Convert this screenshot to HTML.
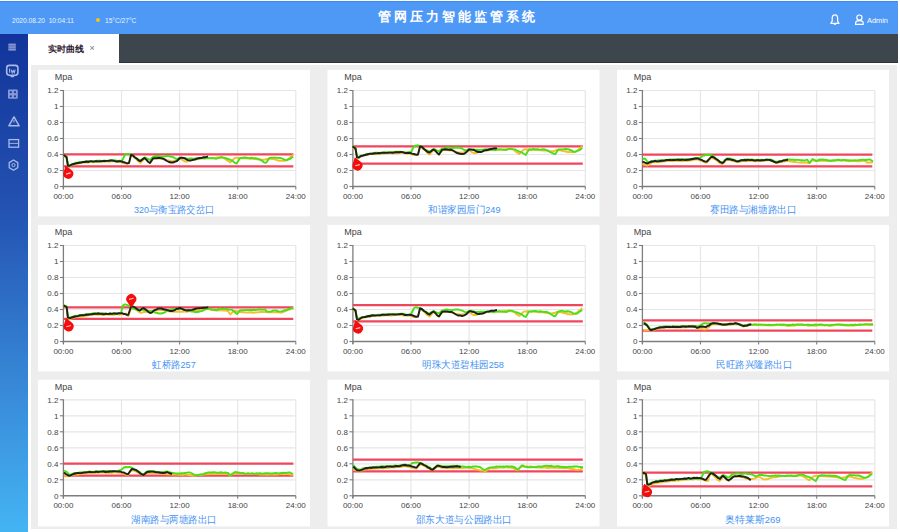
<!DOCTYPE html>
<html><head><meta charset="utf-8">
<style>
html,body{margin:0;padding:0;width:900px;height:532px;overflow:hidden;background:#fff;font-family:"Liberation Sans", sans-serif;}
.hdr{position:absolute;left:0;top:1.3px;width:898px;height:32.6px;background:#4f99f6;border-top:1px solid #3f8af0;box-sizing:border-box;}
.side{position:absolute;left:0;top:33.8px;width:27.5px;height:498.2px;background:linear-gradient(#12349a,#2352b2 35%,#3a8fdc 75%,#44b4f3);}
.tabbar{position:absolute;left:118.5px;top:33.8px;width:779.7px;height:28.8px;background:#3d454d;border-bottom:0.8px solid #2c3238;box-sizing:border-box;}
.tab{position:absolute;left:27.5px;top:33.8px;width:91px;height:29px;background:#fff;}
.content{position:absolute;left:31px;top:64.5px;width:865.5px;height:464.5px;background:#ededed;}
svg{position:absolute;left:0;top:0;}
.dt{position:absolute;left:12px;top:15.5px;font-size:6.6px;line-height:9px;color:#eaf2ff;white-space:nowrap;}
.sun{position:absolute;left:95.6px;top:18.2px;width:4px;height:4px;border-radius:50%;background:#f4c21a;}
.temp{position:absolute;left:105px;top:15.5px;font-size:6.6px;line-height:9px;color:#eaf2ff;white-space:nowrap;}
.title{position:absolute;left:378px;top:9px;font-size:13.4px;line-height:16px;font-weight:bold;color:#fff;letter-spacing:3.05px;white-space:nowrap;}
.admin{position:absolute;left:867px;top:15.5px;font-size:7.4px;line-height:9px;color:#fff;white-space:nowrap;}
.tabtxt{position:absolute;left:48px;top:43.5px;font-size:8.9px;line-height:10px;font-weight:bold;color:#2a2230;white-space:nowrap;}
.tabx{position:absolute;left:89.5px;top:43px;font-size:9px;line-height:10px;color:#777;}
#wrap{position:absolute;left:0;top:0;width:900px;height:532px;}
</style></head><body><div id="wrap">
<div class="hdr"></div>
<div class="side"></div>
<div class="tab"></div>
<div class="tabbar"></div>
<div class="content"></div>
<div class="dt">2020.08.20&nbsp; 10:04:11</div>
<div class="sun"></div>
<div class="temp">15°C/27°C</div>
<div class="title">管网压力智能监管系统</div>
<div class="admin">Admin</div>
<div class="tabtxt">实时曲线</div>
<div class="tabx">×</div>
<svg width="900" height="532" viewBox="0 0 900 532" font-family='"Liberation Sans", sans-serif'>
<rect x="38.0" y="69.8" width="272.0" height="146.6" fill="#fff"/>
<line x1="63.4" y1="170.50" x2="295.8" y2="170.50" stroke="#e6e6e6" stroke-width="1.2"/>
<line x1="63.4" y1="154.50" x2="295.8" y2="154.50" stroke="#e6e6e6" stroke-width="1.2"/>
<line x1="63.4" y1="138.50" x2="295.8" y2="138.50" stroke="#e6e6e6" stroke-width="1.2"/>
<line x1="63.4" y1="122.50" x2="295.8" y2="122.50" stroke="#e6e6e6" stroke-width="1.2"/>
<line x1="63.4" y1="106.50" x2="295.8" y2="106.50" stroke="#e6e6e6" stroke-width="1.2"/>
<line x1="63.4" y1="90.50" x2="295.8" y2="90.50" stroke="#e6e6e6" stroke-width="1.2"/>
<line x1="121.50" y1="90.5" x2="121.50" y2="186.5" stroke="#e6e6e6" stroke-width="1.2"/>
<line x1="179.60" y1="90.5" x2="179.60" y2="186.5" stroke="#e6e6e6" stroke-width="1.2"/>
<line x1="237.70" y1="90.5" x2="237.70" y2="186.5" stroke="#e6e6e6" stroke-width="1.2"/>
<line x1="295.80" y1="90.5" x2="295.80" y2="186.5" stroke="#e6e6e6" stroke-width="1.2"/>
<line x1="63.4" y1="90.0" x2="63.4" y2="189.0" stroke="#7d7d7d" stroke-width="1.3"/>
<line x1="62.8" y1="186.5" x2="295.8" y2="186.5" stroke="#7d7d7d" stroke-width="1.5"/>
<line x1="59.9" y1="186.50" x2="63.4" y2="186.50" stroke="#7d7d7d" stroke-width="1.1"/>
<text x="58.4" y="189.40" text-anchor="end" font-size="8" fill="#444">0</text>
<line x1="59.9" y1="170.50" x2="63.4" y2="170.50" stroke="#7d7d7d" stroke-width="1.1"/>
<text x="58.4" y="173.40" text-anchor="end" font-size="8" fill="#444">0.2</text>
<line x1="59.9" y1="154.50" x2="63.4" y2="154.50" stroke="#7d7d7d" stroke-width="1.1"/>
<text x="58.4" y="157.40" text-anchor="end" font-size="8" fill="#444">0.4</text>
<line x1="59.9" y1="138.50" x2="63.4" y2="138.50" stroke="#7d7d7d" stroke-width="1.1"/>
<text x="58.4" y="141.40" text-anchor="end" font-size="8" fill="#444">0.6</text>
<line x1="59.9" y1="122.50" x2="63.4" y2="122.50" stroke="#7d7d7d" stroke-width="1.1"/>
<text x="58.4" y="125.40" text-anchor="end" font-size="8" fill="#444">0.8</text>
<line x1="59.9" y1="106.50" x2="63.4" y2="106.50" stroke="#7d7d7d" stroke-width="1.1"/>
<text x="58.4" y="109.40" text-anchor="end" font-size="8" fill="#444">1</text>
<line x1="59.9" y1="90.50" x2="63.4" y2="90.50" stroke="#7d7d7d" stroke-width="1.1"/>
<text x="58.4" y="93.40" text-anchor="end" font-size="8" fill="#444">1.2</text>
<line x1="63.40" y1="186.5" x2="63.40" y2="189.5" stroke="#7d7d7d" stroke-width="1.1"/>
<text x="63.40" y="198.50" text-anchor="middle" font-size="8" fill="#444">00:00</text>
<line x1="121.50" y1="186.5" x2="121.50" y2="189.5" stroke="#7d7d7d" stroke-width="1.1"/>
<text x="121.50" y="198.50" text-anchor="middle" font-size="8" fill="#444">06:00</text>
<line x1="179.60" y1="186.5" x2="179.60" y2="189.5" stroke="#7d7d7d" stroke-width="1.1"/>
<text x="179.60" y="198.50" text-anchor="middle" font-size="8" fill="#444">12:00</text>
<line x1="237.70" y1="186.5" x2="237.70" y2="189.5" stroke="#7d7d7d" stroke-width="1.1"/>
<text x="237.70" y="198.50" text-anchor="middle" font-size="8" fill="#444">18:00</text>
<line x1="295.80" y1="186.5" x2="295.80" y2="189.5" stroke="#7d7d7d" stroke-width="1.1"/>
<text x="295.80" y="198.50" text-anchor="middle" font-size="8" fill="#444">24:00</text>
<text x="63.4" y="80.30" text-anchor="middle" font-size="9" fill="#444">Mpa</text>
<text x="134.10" y="212.60" font-size="9.6" fill="#4592f2" textLength="80.3" lengthAdjust="spacingAndGlyphs">320与衡宝路交岔口</text>
<line x1="63.4" y1="154.4" x2="293.30" y2="154.4" stroke="#f0465c" stroke-width="2.2"/>
<line x1="63.4" y1="166.3" x2="293.30" y2="166.3" stroke="#f0465c" stroke-width="2.2"/>
<polyline points="63.6,156.0 66.5,158.0 68.0,166.5 69.7,166.1 72.0,165.0 73.8,164.7 75.9,164.1 78.0,163.5 79.6,163.0 81.2,162.9 83.0,162.7 85.0,162.5 86.5,162.5 88.1,162.5 89.8,161.9 91.6,161.8 93.3,162.3 95.0,162.0 96.7,161.9 98.4,162.1 100.2,161.5 101.9,161.8 103.5,161.9 105.0,161.7 107.0,161.4 108.8,161.7 110.5,161.6 112.0,161.3 113.9,161.1 115.5,161.4 117.0,162.0 119.0,162.0 121.0,162.0 123.4,163.1 125.8,163.5 127.6,163.7 129.0,163.0 131.0,155.5 132.8,155.8 135.0,158.0 136.8,159.8 138.7,161.6 140.5,163.0 142.5,160.6 144.5,158.5 146.3,159.6 148.3,161.8 150.0,163.0 153.0,159.0 154.5,158.4 156.3,158.3 158.0,158.5 159.7,158.4 161.4,158.7 163.0,159.0 164.9,159.6 167.0,160.5 168.9,160.5 171.1,161.2 173.0,161.0 175.2,160.7 177.0,160.0 180.0,158.5 181.5,159.4 183.3,160.4 185.0,161.5 186.5,161.8 188.0,161.3 190.0,160.5 191.4,159.9 193.1,159.7 195.0,159.6 196.9,159.2 198.6,159.1 200.0,158.5 202.0,158.1 203.4,158.3 205.0,158.0 206.5,158.1 208.2,157.9 210.0,158.1 212.0,158.0 213.5,158.2 215.3,158.0 217.1,157.5 218.9,157.5 220.5,157.0 222.0,157.5 224.4,158.3 226.4,160.0 228.0,161.0 230.3,162.4 232.3,160.3 234.6,158.2 236.0,157.6 237.4,157.9 240.0,158.0 241.3,158.2 242.8,158.3 244.6,158.2 246.4,158.3 248.4,158.5 250.2,158.8 252.0,158.8 253.6,158.8 255.0,159.0 257.4,159.3 259.2,159.3 260.7,159.5 262.0,160.0 265.0,159.5 266.2,159.2 267.6,158.9 270.0,158.5 271.4,158.8 273.0,159.0 274.9,159.3 276.9,160.0 278.9,160.8 280.8,160.9 282.6,160.9 284.2,160.8 286.5,160.2 288.6,158.4 290.5,157.0 292.1,155.8 293.2,154.5" fill="none" stroke="#f7bd2f" stroke-width="1.9" stroke-linejoin="round"/>
<polyline points="63.6,154.5 66.5,156.5 68.0,165.3 69.7,165.6 72.0,164.0 73.8,163.8 75.9,162.7 78.0,162.5 79.6,161.9 81.2,162.2 83.0,161.9 85.0,161.5 86.5,161.5 88.1,161.2 89.8,161.3 91.6,161.2 93.3,161.1 95.0,161.0 96.7,160.7 98.4,160.8 100.2,160.8 101.9,161.0 103.5,161.1 105.0,160.7 107.0,160.9 108.8,160.5 110.5,160.3 112.0,160.3 113.9,160.3 115.5,160.5 117.0,161.0 119.2,160.7 121.0,161.0 122.2,160.5 125.0,154.5 126.8,153.9 129.0,153.9 131.0,154.5 133.0,155.8 135.0,157.5 136.8,158.8 138.7,159.6 140.5,160.0 142.5,158.8 144.5,157.5 146.3,158.0 148.3,159.1 150.0,160.0 153.0,157.0 154.5,156.3 156.3,155.9 158.0,156.0 159.7,156.1 161.4,156.7 163.0,156.5 164.9,156.3 167.0,156.0 168.9,156.0 171.1,156.8 173.0,157.0 175.2,158.4 177.0,159.0 180.0,157.5 181.5,157.7 183.3,158.0 185.0,158.0 186.5,158.4 188.0,158.6 190.0,158.5 191.4,158.4 193.1,158.7 195.0,158.6 196.9,157.9 198.6,158.2 200.0,158.0 202.0,158.3 203.4,158.3 205.0,158.5 206.7,158.4 208.5,158.2 210.3,158.4 212.0,158.0 213.8,158.2 215.4,158.7 217.0,158.5 218.6,157.9 220.2,157.7 221.9,157.1 223.9,157.8 226.0,158.2 228.0,159.0 230.4,159.9 232.5,160.8 234.7,162.9 236.7,163.5 239.8,158.2 241.1,158.0 242.8,157.7 244.7,157.5 246.6,157.7 248.4,158.1 250.0,158.0 252.0,157.8 253.8,158.4 255.5,158.1 257.0,158.5 258.8,159.4 260.5,159.9 262.0,160.8 264.2,162.5 266.2,162.7 269.4,158.0 270.8,157.8 272.5,157.6 274.5,157.6 276.5,157.8 278.4,157.9 280.0,158.0 282.4,158.7 284.3,159.7 286.3,160.3 288.1,159.7 290.1,158.9 291.9,157.5 293.2,156.6" fill="none" stroke="#4ade18" stroke-width="1.9" stroke-linejoin="round"/>
<polyline points="63.6,155.0 66.5,157.0 68.0,165.9 69.7,165.7 72.0,164.5 73.8,164.0 75.9,163.4 78.0,163.0 79.6,162.8 81.2,162.5 83.0,161.9 85.0,162.0 86.5,161.5 88.1,162.0 89.8,161.4 91.6,161.3 93.3,161.7 95.0,161.3 96.7,161.2 98.4,161.4 100.2,161.1 101.9,161.2 103.5,160.8 105.0,161.0 107.0,160.9 108.8,160.9 110.5,160.5 112.0,160.5 113.9,160.9 115.5,161.3 117.0,161.5 119.1,161.1 121.0,161.3 123.0,162.0 125.0,162.5 127.1,163.4 129.0,163.0 131.0,155.0 132.8,155.4 135.0,157.5 136.8,158.5 138.7,160.5 140.5,161.0 142.5,159.4 144.5,158.0 146.3,159.6 148.3,162.0 150.0,163.0 153.0,158.5 154.5,158.1 156.3,158.2 158.0,158.0 159.7,157.9 161.4,158.4 163.0,158.5 164.9,159.6 167.0,161.0 168.9,162.0 171.1,162.5 173.0,162.5 175.2,161.7 177.0,161.0 180.0,158.0 181.5,157.6 183.3,157.9 185.0,158.5 186.5,159.5 188.0,160.1 190.0,160.5 191.4,160.4 193.0,159.8 194.8,159.5 196.6,158.8 198.4,158.3 200.0,158.0 201.9,157.7 203.7,157.3 205.5,157.2 206.9,156.8 208.0,156.5" fill="none" stroke="#1c1f1c" stroke-width="1.9" stroke-linejoin="round"/>
<g transform="translate(68.3,173.8) rotate(162)"><path d="M0,8.75 L-4.00,3.00 A5.0,5.0 0 1 1 4.00,3.00 Z" fill="#f50d0d"/></g><path d="M66.0,174.1 L70.6,172.9" stroke="#fff" stroke-width="1.1" opacity="0.75"/>
<rect x="327.5" y="69.8" width="272.0" height="146.6" fill="#fff"/>
<line x1="352.9" y1="170.50" x2="585.3" y2="170.50" stroke="#e6e6e6" stroke-width="1.2"/>
<line x1="352.9" y1="154.50" x2="585.3" y2="154.50" stroke="#e6e6e6" stroke-width="1.2"/>
<line x1="352.9" y1="138.50" x2="585.3" y2="138.50" stroke="#e6e6e6" stroke-width="1.2"/>
<line x1="352.9" y1="122.50" x2="585.3" y2="122.50" stroke="#e6e6e6" stroke-width="1.2"/>
<line x1="352.9" y1="106.50" x2="585.3" y2="106.50" stroke="#e6e6e6" stroke-width="1.2"/>
<line x1="352.9" y1="90.50" x2="585.3" y2="90.50" stroke="#e6e6e6" stroke-width="1.2"/>
<line x1="411.00" y1="90.5" x2="411.00" y2="186.5" stroke="#e6e6e6" stroke-width="1.2"/>
<line x1="469.10" y1="90.5" x2="469.10" y2="186.5" stroke="#e6e6e6" stroke-width="1.2"/>
<line x1="527.20" y1="90.5" x2="527.20" y2="186.5" stroke="#e6e6e6" stroke-width="1.2"/>
<line x1="585.30" y1="90.5" x2="585.30" y2="186.5" stroke="#e6e6e6" stroke-width="1.2"/>
<line x1="352.9" y1="90.0" x2="352.9" y2="189.0" stroke="#7d7d7d" stroke-width="1.3"/>
<line x1="352.29999999999995" y1="186.5" x2="585.3" y2="186.5" stroke="#7d7d7d" stroke-width="1.5"/>
<line x1="349.4" y1="186.50" x2="352.9" y2="186.50" stroke="#7d7d7d" stroke-width="1.1"/>
<text x="347.9" y="189.40" text-anchor="end" font-size="8" fill="#444">0</text>
<line x1="349.4" y1="170.50" x2="352.9" y2="170.50" stroke="#7d7d7d" stroke-width="1.1"/>
<text x="347.9" y="173.40" text-anchor="end" font-size="8" fill="#444">0.2</text>
<line x1="349.4" y1="154.50" x2="352.9" y2="154.50" stroke="#7d7d7d" stroke-width="1.1"/>
<text x="347.9" y="157.40" text-anchor="end" font-size="8" fill="#444">0.4</text>
<line x1="349.4" y1="138.50" x2="352.9" y2="138.50" stroke="#7d7d7d" stroke-width="1.1"/>
<text x="347.9" y="141.40" text-anchor="end" font-size="8" fill="#444">0.6</text>
<line x1="349.4" y1="122.50" x2="352.9" y2="122.50" stroke="#7d7d7d" stroke-width="1.1"/>
<text x="347.9" y="125.40" text-anchor="end" font-size="8" fill="#444">0.8</text>
<line x1="349.4" y1="106.50" x2="352.9" y2="106.50" stroke="#7d7d7d" stroke-width="1.1"/>
<text x="347.9" y="109.40" text-anchor="end" font-size="8" fill="#444">1</text>
<line x1="349.4" y1="90.50" x2="352.9" y2="90.50" stroke="#7d7d7d" stroke-width="1.1"/>
<text x="347.9" y="93.40" text-anchor="end" font-size="8" fill="#444">1.2</text>
<line x1="352.90" y1="186.5" x2="352.90" y2="189.5" stroke="#7d7d7d" stroke-width="1.1"/>
<text x="352.90" y="198.50" text-anchor="middle" font-size="8" fill="#444">00:00</text>
<line x1="411.00" y1="186.5" x2="411.00" y2="189.5" stroke="#7d7d7d" stroke-width="1.1"/>
<text x="411.00" y="198.50" text-anchor="middle" font-size="8" fill="#444">06:00</text>
<line x1="469.10" y1="186.5" x2="469.10" y2="189.5" stroke="#7d7d7d" stroke-width="1.1"/>
<text x="469.10" y="198.50" text-anchor="middle" font-size="8" fill="#444">12:00</text>
<line x1="527.20" y1="186.5" x2="527.20" y2="189.5" stroke="#7d7d7d" stroke-width="1.1"/>
<text x="527.20" y="198.50" text-anchor="middle" font-size="8" fill="#444">18:00</text>
<line x1="585.30" y1="186.5" x2="585.30" y2="189.5" stroke="#7d7d7d" stroke-width="1.1"/>
<text x="585.30" y="198.50" text-anchor="middle" font-size="8" fill="#444">24:00</text>
<text x="352.9" y="80.30" text-anchor="middle" font-size="9" fill="#444">Mpa</text>
<text x="428.00" y="212.60" font-size="9.6" fill="#4592f2" textLength="72.5" lengthAdjust="spacingAndGlyphs">和谐家园后门249</text>
<line x1="352.9" y1="146.4" x2="582.80" y2="146.4" stroke="#f0465c" stroke-width="2.2"/>
<line x1="352.9" y1="163.7" x2="582.80" y2="163.7" stroke="#f0465c" stroke-width="2.2"/>
<polyline points="352.6,147.5 355.5,149.5 357.0,158.0 358.7,157.7 361.0,156.5 362.8,155.7 364.9,155.4 367.0,155.0 368.6,154.5 370.2,154.1 372.0,154.1 374.0,154.0 375.5,154.2 377.1,154.0 378.8,153.9 380.6,153.4 382.3,153.6 384.0,153.5 385.7,153.3 387.4,153.2 389.2,153.1 390.9,153.1 392.5,153.6 394.0,153.2 396.0,153.3 397.8,153.2 399.5,153.0 401.0,152.8 402.9,152.8 404.5,153.1 406.0,153.5 408.0,153.5 410.0,153.5 411.6,154.1 413.3,154.8 414.8,155.0 418.0,154.5 420.0,147.0 421.8,147.7 424.0,149.5 425.8,151.0 427.7,153.5 429.5,154.5 431.5,152.4 433.5,150.0 435.3,151.2 437.3,153.1 439.0,154.5 442.0,150.5 443.5,150.0 445.3,149.7 447.0,150.0 448.7,150.4 450.4,150.5 452.0,150.5 453.9,151.3 456.0,152.0 457.9,152.2 460.1,152.8 462.0,152.5 464.2,152.2 466.0,151.5 469.0,150.0 470.5,151.1 472.3,152.4 474.0,153.0 475.5,153.0 477.0,152.5 479.0,152.0 480.4,151.8 482.1,151.3 484.0,150.7 485.9,150.5 487.6,150.5 489.0,150.0 491.0,149.4 492.4,149.3 494.0,149.5 495.5,149.6 497.2,149.3 499.0,149.5 501.0,149.5 502.5,149.4 504.3,149.1 506.1,149.4 507.9,148.7 509.5,148.8 511.0,149.0 513.4,149.7 515.4,151.4 517.0,152.5 519.3,153.9 521.3,151.7 523.6,149.7 525.0,149.2 526.4,149.5 529.0,149.5 530.3,149.4 531.8,149.7 533.6,150.0 535.4,149.6 537.4,149.7 539.2,149.9 541.0,150.4 542.6,150.5 544.0,150.5 546.4,150.6 548.2,151.0 549.7,151.1 551.0,151.5 554.0,151.0 555.2,150.6 556.6,149.8 559.0,150.0 560.4,150.3 562.0,150.8 563.9,151.3 565.9,151.6 567.9,152.2 569.8,151.9 571.6,152.3 573.2,152.3 575.5,151.8 577.6,150.3 579.5,148.4 581.1,147.3 582.2,146.0" fill="none" stroke="#f7bd2f" stroke-width="1.9" stroke-linejoin="round"/>
<polyline points="352.6,146.0 355.5,148.0 357.0,156.8 358.7,156.9 361.0,155.5 362.8,155.2 364.9,154.7 367.0,154.0 368.6,154.0 370.2,153.6 372.0,153.5 374.0,153.0 375.5,152.6 377.1,152.8 378.8,153.0 380.6,152.7 382.3,152.8 384.0,152.5 385.7,152.2 387.4,152.4 389.2,152.2 390.9,152.3 392.5,152.3 394.0,152.2 396.0,151.7 397.8,151.7 399.5,151.7 401.0,151.8 402.9,152.3 404.5,152.5 406.0,152.5 408.2,152.3 410.0,152.5 411.2,152.0 414.0,146.0 415.8,145.7 418.0,145.3 420.0,146.0 422.0,147.4 424.0,149.0 425.8,149.8 427.7,150.7 429.5,151.5 431.5,150.5 433.5,149.0 435.3,149.5 437.3,150.7 439.0,151.5 442.0,148.5 443.5,148.3 445.3,147.9 447.0,147.5 448.7,147.4 450.4,148.2 452.0,148.0 453.9,147.7 456.0,147.5 457.9,147.8 460.1,147.8 462.0,148.5 464.2,150.0 466.0,150.5 469.0,149.0 470.5,149.2 472.3,149.6 474.0,149.5 475.5,150.0 477.0,149.8 479.0,150.0 480.4,149.9 482.1,149.6 484.0,149.5 485.9,149.3 487.6,149.4 489.0,149.5 491.0,149.7 492.4,149.5 494.0,150.0 495.7,150.0 497.5,149.6 499.3,149.4 501.0,149.5 502.8,149.9 504.4,149.9 506.0,150.0 507.6,149.4 509.2,148.9 510.9,148.6 512.9,149.1 515.0,149.4 517.0,150.5 519.4,151.7 521.5,152.3 523.7,153.8 525.7,155.0 528.8,149.7 530.1,149.5 531.8,149.5 533.7,148.9 535.6,149.5 537.4,149.3 539.0,149.5 541.0,149.6 542.8,149.3 544.5,149.4 546.0,150.0 547.8,150.4 549.5,151.8 551.0,152.3 553.2,153.5 555.2,154.2 558.4,149.5 559.8,149.4 561.5,149.4 563.5,149.4 565.5,149.0 567.4,149.2 569.0,149.5 571.4,150.3 573.3,151.6 575.3,151.8 577.1,150.9 579.1,150.3 580.9,149.1 582.2,148.1" fill="none" stroke="#4ade18" stroke-width="1.9" stroke-linejoin="round"/>
<polyline points="352.6,146.5 355.5,148.5 357.0,157.4 358.7,157.6 361.0,156.0 362.8,155.7 364.9,155.0 367.0,154.5 368.6,154.0 370.2,153.6 372.0,153.8 374.0,153.5 375.5,153.3 377.1,153.4 378.8,153.0 380.6,153.2 382.3,152.7 384.0,152.8 385.7,152.9 387.4,152.8 389.2,152.6 390.9,152.6 392.5,152.7 394.0,152.5 396.0,152.1 397.8,152.2 399.5,152.2 401.0,152.0 402.9,152.1 404.5,152.9 406.0,153.0 408.1,153.0 410.0,152.8 412.0,153.6 414.0,154.0 416.1,154.7 418.0,154.5 420.0,146.5 421.8,146.7 424.0,149.0 425.8,150.5 427.7,152.0 429.5,152.5 431.5,150.9 433.5,149.5 435.3,150.6 437.3,153.0 439.0,154.5 442.0,150.0 443.5,149.6 445.3,149.3 447.0,149.5 448.7,149.8 450.4,149.7 452.0,150.0 453.9,151.0 456.0,152.5 457.9,153.3 460.1,153.7 462.0,154.0 464.2,153.8 466.0,152.5 469.0,149.5 470.5,149.6 472.3,149.6 474.0,150.0 475.5,150.8 477.0,151.7 479.0,152.0 480.4,152.0 482.0,151.8 483.8,150.6 485.6,150.3 487.4,150.0 489.0,149.5 490.9,149.0 492.7,148.8 494.5,148.2 495.9,148.5 497.0,148.0" fill="none" stroke="#1c1f1c" stroke-width="1.9" stroke-linejoin="round"/>
<g transform="translate(357.5,165.5) rotate(162)"><path d="M0,8.75 L-4.00,3.00 A5.0,5.0 0 1 1 4.00,3.00 Z" fill="#f50d0d"/></g><path d="M355.2,165.8 L359.8,164.6" stroke="#fff" stroke-width="1.1" opacity="0.75"/>
<rect x="617.0" y="69.8" width="272.0" height="146.6" fill="#fff"/>
<line x1="642.4" y1="170.50" x2="874.8" y2="170.50" stroke="#e6e6e6" stroke-width="1.2"/>
<line x1="642.4" y1="154.50" x2="874.8" y2="154.50" stroke="#e6e6e6" stroke-width="1.2"/>
<line x1="642.4" y1="138.50" x2="874.8" y2="138.50" stroke="#e6e6e6" stroke-width="1.2"/>
<line x1="642.4" y1="122.50" x2="874.8" y2="122.50" stroke="#e6e6e6" stroke-width="1.2"/>
<line x1="642.4" y1="106.50" x2="874.8" y2="106.50" stroke="#e6e6e6" stroke-width="1.2"/>
<line x1="642.4" y1="90.50" x2="874.8" y2="90.50" stroke="#e6e6e6" stroke-width="1.2"/>
<line x1="700.50" y1="90.5" x2="700.50" y2="186.5" stroke="#e6e6e6" stroke-width="1.2"/>
<line x1="758.60" y1="90.5" x2="758.60" y2="186.5" stroke="#e6e6e6" stroke-width="1.2"/>
<line x1="816.70" y1="90.5" x2="816.70" y2="186.5" stroke="#e6e6e6" stroke-width="1.2"/>
<line x1="874.80" y1="90.5" x2="874.80" y2="186.5" stroke="#e6e6e6" stroke-width="1.2"/>
<line x1="642.4" y1="90.0" x2="642.4" y2="189.0" stroke="#7d7d7d" stroke-width="1.3"/>
<line x1="641.8" y1="186.5" x2="874.8" y2="186.5" stroke="#7d7d7d" stroke-width="1.5"/>
<line x1="638.9" y1="186.50" x2="642.4" y2="186.50" stroke="#7d7d7d" stroke-width="1.1"/>
<text x="637.4" y="189.40" text-anchor="end" font-size="8" fill="#444">0</text>
<line x1="638.9" y1="170.50" x2="642.4" y2="170.50" stroke="#7d7d7d" stroke-width="1.1"/>
<text x="637.4" y="173.40" text-anchor="end" font-size="8" fill="#444">0.2</text>
<line x1="638.9" y1="154.50" x2="642.4" y2="154.50" stroke="#7d7d7d" stroke-width="1.1"/>
<text x="637.4" y="157.40" text-anchor="end" font-size="8" fill="#444">0.4</text>
<line x1="638.9" y1="138.50" x2="642.4" y2="138.50" stroke="#7d7d7d" stroke-width="1.1"/>
<text x="637.4" y="141.40" text-anchor="end" font-size="8" fill="#444">0.6</text>
<line x1="638.9" y1="122.50" x2="642.4" y2="122.50" stroke="#7d7d7d" stroke-width="1.1"/>
<text x="637.4" y="125.40" text-anchor="end" font-size="8" fill="#444">0.8</text>
<line x1="638.9" y1="106.50" x2="642.4" y2="106.50" stroke="#7d7d7d" stroke-width="1.1"/>
<text x="637.4" y="109.40" text-anchor="end" font-size="8" fill="#444">1</text>
<line x1="638.9" y1="90.50" x2="642.4" y2="90.50" stroke="#7d7d7d" stroke-width="1.1"/>
<text x="637.4" y="93.40" text-anchor="end" font-size="8" fill="#444">1.2</text>
<line x1="642.40" y1="186.5" x2="642.40" y2="189.5" stroke="#7d7d7d" stroke-width="1.1"/>
<text x="642.40" y="198.50" text-anchor="middle" font-size="8" fill="#444">00:00</text>
<line x1="700.50" y1="186.5" x2="700.50" y2="189.5" stroke="#7d7d7d" stroke-width="1.1"/>
<text x="700.50" y="198.50" text-anchor="middle" font-size="8" fill="#444">06:00</text>
<line x1="758.60" y1="186.5" x2="758.60" y2="189.5" stroke="#7d7d7d" stroke-width="1.1"/>
<text x="758.60" y="198.50" text-anchor="middle" font-size="8" fill="#444">12:00</text>
<line x1="816.70" y1="186.5" x2="816.70" y2="189.5" stroke="#7d7d7d" stroke-width="1.1"/>
<text x="816.70" y="198.50" text-anchor="middle" font-size="8" fill="#444">18:00</text>
<line x1="874.80" y1="186.5" x2="874.80" y2="189.5" stroke="#7d7d7d" stroke-width="1.1"/>
<text x="874.80" y="198.50" text-anchor="middle" font-size="8" fill="#444">24:00</text>
<text x="642.4" y="80.30" text-anchor="middle" font-size="9" fill="#444">Mpa</text>
<text x="709.90" y="212.60" font-size="9.6" fill="#4592f2" textLength="86.8" lengthAdjust="spacingAndGlyphs">赛田路与湘塘路出口</text>
<line x1="642.4" y1="154.6" x2="872.30" y2="154.6" stroke="#f0465c" stroke-width="2.2"/>
<line x1="642.4" y1="166.3" x2="872.30" y2="166.3" stroke="#f0465c" stroke-width="2.2"/>
<polyline points="642.5,164.0 643.8,164.4 645.7,165.0 647.5,165.5 649.6,164.2 652.0,162.5 653.3,161.9 654.9,162.2 656.5,162.0 658.2,161.8 660.0,162.0 661.6,161.9 663.2,161.3 664.9,161.4 666.6,161.0 668.3,160.8 670.0,161.0 671.7,160.9 673.3,161.2 675.0,160.7 676.7,160.8 678.3,161.1 680.0,161.0 681.7,161.3 683.5,160.9 685.2,160.7 687.0,161.1 688.6,160.3 690.0,160.5 692.4,160.4 694.3,159.6 696.0,159.5 697.9,159.6 700.0,160.5 701.6,160.8 703.5,161.7 705.4,162.7 707.0,162.5 709.1,160.0 711.0,158.0 712.6,158.2 714.2,159.0 716.0,160.0 718.0,161.4 720.0,163.2 722.0,164.0 723.7,162.8 725.3,161.0 727.0,160.0 729.0,159.8 731.1,160.6 733.0,161.0 734.9,161.6 737.0,162.0 738.2,161.8 739.6,161.8 741.1,161.4 742.9,161.0 745.0,161.0 746.4,161.2 748.0,161.1 749.7,160.8 751.5,161.0 753.3,161.0 755.1,161.3 756.9,161.2 758.5,160.9 760.0,161.0 762.0,161.2 763.9,160.5 765.6,160.5 767.1,160.6 768.6,160.2 770.0,160.5 772.4,161.2 774.3,162.0 776.0,163.0 777.9,162.8 780.0,162.0 781.4,162.0 783.0,161.6 784.7,161.5 786.4,160.9 788.0,161.0 789.8,161.3 791.4,161.5 793.1,161.8 795.0,162.0 796.6,162.1 798.3,162.4 800.2,162.6 802.0,162.3 803.6,162.5 805.0,162.5 807.7,162.7 809.5,163.0 812.5,160.0 814.2,160.5 816.0,161.0 817.6,160.9 820.0,160.5 821.3,160.9 822.9,160.9 824.6,160.6 826.4,160.8 828.3,161.1 830.0,161.0 831.7,160.6 833.3,160.8 835.0,160.5 836.7,160.4 838.3,160.2 840.0,160.5 841.6,160.7 843.1,160.4 844.7,160.5 846.3,160.8 848.0,161.2 850.0,161.0 851.5,160.7 853.2,161.0 855.1,161.0 857.0,161.2 859.0,161.1 860.8,161.2 862.4,160.8 863.9,160.9 865.0,161.0 867.0,162.5 868.9,162.4 871.3,162.5 873.0,162.0" fill="none" stroke="#f7bd2f" stroke-width="1.9" stroke-linejoin="round"/>
<polyline points="642.5,159.0 645.0,158.5 648.0,162.5 649.7,161.8 652.0,161.0 653.3,161.2 654.8,160.5 656.5,160.8 658.2,160.3 660.0,160.5 661.6,160.2 663.2,160.5 664.9,159.8 666.6,159.9 668.3,159.6 670.0,159.5 671.7,159.4 673.3,159.4 675.0,159.3 676.7,159.7 678.3,159.2 680.0,159.5 681.7,159.3 683.5,159.1 685.2,159.1 687.0,159.2 688.6,159.4 690.0,159.0 692.4,158.6 694.3,158.0 696.0,158.0 698.2,157.9 700.0,158.0 703.0,155.5 704.3,155.6 706.0,154.7 707.8,154.9 709.5,154.7 711.0,155.0 712.9,156.0 714.4,157.0 716.0,158.5 718.0,160.2 720.0,161.7 722.0,162.5 723.7,161.7 725.3,160.0 727.0,158.5 729.0,158.5 731.1,158.7 733.0,159.5 734.9,160.1 737.0,161.0 738.2,161.2 739.6,160.5 741.1,159.9 742.9,160.0 745.0,159.5 746.4,159.5 748.0,159.7 749.7,159.8 751.5,159.5 753.3,159.6 755.1,160.1 756.9,159.7 758.5,160.2 760.0,160.0 762.0,159.7 763.9,159.9 765.6,159.8 767.1,159.8 768.6,159.7 770.0,159.5 772.4,160.2 774.3,161.1 776.0,162.0 777.9,161.5 780.0,161.0 781.4,160.7 783.0,160.3 784.7,159.7 786.4,160.0 788.0,159.5 789.8,159.5 791.4,159.8 793.1,159.6 795.0,160.0 796.6,159.9 798.4,159.9 800.3,160.2 802.1,160.3 803.8,160.4 805.0,160.5 807.0,159.5 809.5,163.0 812.5,159.0 814.2,159.8 816.0,161.0 817.6,160.5 820.0,159.5 821.3,159.8 822.9,159.5 824.6,159.9 826.4,160.0 828.3,160.5 830.0,160.5 831.7,160.8 833.3,160.2 835.0,160.5 836.7,160.0 838.3,159.7 840.0,160.0 841.6,160.2 843.1,160.0 844.7,160.0 846.3,160.3 848.0,160.3 850.0,160.5 851.5,160.4 853.2,160.4 855.0,160.3 856.9,160.4 858.7,160.1 860.6,159.9 862.2,159.8 863.7,159.8 865.0,160.0 867.5,159.8 868.9,159.4 870.0,159.5 873.0,161.5" fill="none" stroke="#4ade18" stroke-width="1.9" stroke-linejoin="round"/>
<polyline points="642.5,161.5 643.8,162.1 645.7,163.0 647.5,163.5 649.6,162.4 652.0,161.5 653.3,161.6 654.9,160.9 656.5,161.2 658.2,161.4 660.0,161.0 661.6,160.6 663.2,160.7 664.9,160.6 666.6,160.0 668.3,160.0 670.0,160.0 671.7,160.1 673.3,159.9 675.0,160.1 676.7,159.8 678.3,159.8 680.0,160.0 681.7,159.7 683.5,159.9 685.2,160.1 687.0,159.8 688.6,159.8 690.0,159.5 692.4,159.0 694.3,158.9 696.0,158.5 697.9,158.5 700.0,159.5 701.6,159.9 703.5,161.0 705.4,161.6 707.0,161.5 709.1,159.2 711.0,157.0 712.6,156.8 714.2,157.8 716.0,159.0 718.0,160.3 720.0,162.0 722.0,163.0 723.7,162.3 725.3,160.0 727.0,159.0 729.0,159.2 731.1,159.7 733.0,160.0 734.9,160.6 737.0,161.5 738.2,161.3 739.6,161.0 741.1,160.3 742.9,160.2 745.0,160.0 746.4,160.3 748.0,159.7 749.7,160.1 751.5,159.9 753.3,160.3 755.1,160.6 756.9,160.2 758.5,160.1 760.0,160.5 762.0,160.1 763.9,160.3 765.6,159.8 767.1,159.7 768.6,159.9 770.0,160.0 772.4,161.0 774.3,161.8 776.0,162.5 777.9,162.2 780.0,161.5 781.5,161.3 783.3,160.5 785.2,160.4 786.8,159.8 788.0,159.8" fill="none" stroke="#1c1f1c" stroke-width="1.9" stroke-linejoin="round"/>
<rect x="38.0" y="224.8" width="272.0" height="146.6" fill="#fff"/>
<line x1="63.4" y1="325.50" x2="295.8" y2="325.50" stroke="#e6e6e6" stroke-width="1.2"/>
<line x1="63.4" y1="309.50" x2="295.8" y2="309.50" stroke="#e6e6e6" stroke-width="1.2"/>
<line x1="63.4" y1="293.50" x2="295.8" y2="293.50" stroke="#e6e6e6" stroke-width="1.2"/>
<line x1="63.4" y1="277.50" x2="295.8" y2="277.50" stroke="#e6e6e6" stroke-width="1.2"/>
<line x1="63.4" y1="261.50" x2="295.8" y2="261.50" stroke="#e6e6e6" stroke-width="1.2"/>
<line x1="63.4" y1="245.50" x2="295.8" y2="245.50" stroke="#e6e6e6" stroke-width="1.2"/>
<line x1="121.50" y1="245.5" x2="121.50" y2="341.5" stroke="#e6e6e6" stroke-width="1.2"/>
<line x1="179.60" y1="245.5" x2="179.60" y2="341.5" stroke="#e6e6e6" stroke-width="1.2"/>
<line x1="237.70" y1="245.5" x2="237.70" y2="341.5" stroke="#e6e6e6" stroke-width="1.2"/>
<line x1="295.80" y1="245.5" x2="295.80" y2="341.5" stroke="#e6e6e6" stroke-width="1.2"/>
<line x1="63.4" y1="245.0" x2="63.4" y2="344.0" stroke="#7d7d7d" stroke-width="1.3"/>
<line x1="62.8" y1="341.5" x2="295.8" y2="341.5" stroke="#7d7d7d" stroke-width="1.5"/>
<line x1="59.9" y1="341.50" x2="63.4" y2="341.50" stroke="#7d7d7d" stroke-width="1.1"/>
<text x="58.4" y="344.40" text-anchor="end" font-size="8" fill="#444">0</text>
<line x1="59.9" y1="325.50" x2="63.4" y2="325.50" stroke="#7d7d7d" stroke-width="1.1"/>
<text x="58.4" y="328.40" text-anchor="end" font-size="8" fill="#444">0.2</text>
<line x1="59.9" y1="309.50" x2="63.4" y2="309.50" stroke="#7d7d7d" stroke-width="1.1"/>
<text x="58.4" y="312.40" text-anchor="end" font-size="8" fill="#444">0.4</text>
<line x1="59.9" y1="293.50" x2="63.4" y2="293.50" stroke="#7d7d7d" stroke-width="1.1"/>
<text x="58.4" y="296.40" text-anchor="end" font-size="8" fill="#444">0.6</text>
<line x1="59.9" y1="277.50" x2="63.4" y2="277.50" stroke="#7d7d7d" stroke-width="1.1"/>
<text x="58.4" y="280.40" text-anchor="end" font-size="8" fill="#444">0.8</text>
<line x1="59.9" y1="261.50" x2="63.4" y2="261.50" stroke="#7d7d7d" stroke-width="1.1"/>
<text x="58.4" y="264.40" text-anchor="end" font-size="8" fill="#444">1</text>
<line x1="59.9" y1="245.50" x2="63.4" y2="245.50" stroke="#7d7d7d" stroke-width="1.1"/>
<text x="58.4" y="248.40" text-anchor="end" font-size="8" fill="#444">1.2</text>
<line x1="63.40" y1="341.5" x2="63.40" y2="344.5" stroke="#7d7d7d" stroke-width="1.1"/>
<text x="63.40" y="353.50" text-anchor="middle" font-size="8" fill="#444">00:00</text>
<line x1="121.50" y1="341.5" x2="121.50" y2="344.5" stroke="#7d7d7d" stroke-width="1.1"/>
<text x="121.50" y="353.50" text-anchor="middle" font-size="8" fill="#444">06:00</text>
<line x1="179.60" y1="341.5" x2="179.60" y2="344.5" stroke="#7d7d7d" stroke-width="1.1"/>
<text x="179.60" y="353.50" text-anchor="middle" font-size="8" fill="#444">12:00</text>
<line x1="237.70" y1="341.5" x2="237.70" y2="344.5" stroke="#7d7d7d" stroke-width="1.1"/>
<text x="237.70" y="353.50" text-anchor="middle" font-size="8" fill="#444">18:00</text>
<line x1="295.80" y1="341.5" x2="295.80" y2="344.5" stroke="#7d7d7d" stroke-width="1.1"/>
<text x="295.80" y="353.50" text-anchor="middle" font-size="8" fill="#444">24:00</text>
<text x="63.4" y="235.30" text-anchor="middle" font-size="9" fill="#444">Mpa</text>
<text x="152.10" y="367.60" font-size="9.6" fill="#4592f2" textLength="43.6" lengthAdjust="spacingAndGlyphs">虹桥路257</text>
<line x1="63.4" y1="307.4" x2="293.30" y2="307.4" stroke="#f0465c" stroke-width="2.2"/>
<line x1="63.4" y1="318.8" x2="293.30" y2="318.8" stroke="#f0465c" stroke-width="2.2"/>
<polyline points="63.6,306.0 66.7,308.0 67.9,318.5 69.8,319.2 72.0,318.3 75.0,317.3 76.3,317.0 77.8,316.9 79.6,316.4 81.4,316.5 83.3,316.3 85.0,315.8 86.7,315.7 88.3,315.1 90.0,315.1 91.7,314.8 93.3,314.5 95.0,314.6 96.6,314.9 98.1,314.9 99.6,314.3 101.2,314.9 103.0,314.8 105.0,314.7 106.4,314.6 108.0,314.5 109.7,314.8 111.5,314.6 113.3,314.7 115.1,314.6 116.8,314.2 118.4,314.6 119.8,314.7 121.0,314.3 123.6,314.3 124.9,313.6 126.0,313.5 128.3,316.0 131.0,309.0 132.9,307.7 135.0,308.5 136.4,309.4 137.9,311.2 140.0,312.5 141.4,312.9 143.0,312.3 144.7,312.0 146.5,311.9 148.3,311.2 150.0,311.0 151.6,310.8 153.3,310.5 154.9,310.0 156.5,310.2 158.2,310.3 160.0,310.0 161.6,309.9 163.2,310.1 164.8,310.5 166.5,310.5 168.2,311.1 170.1,311.6 172.0,311.5 173.4,311.7 174.9,311.7 176.5,311.9 178.1,311.5 179.7,311.8 181.3,311.7 183.0,311.8 184.7,311.4 186.3,311.8 188.0,311.5 189.7,311.1 191.5,310.9 193.3,311.0 195.2,310.8 197.1,310.1 198.9,309.8 200.6,309.4 202.2,309.2 203.7,309.2 205.0,309.0 207.2,308.8 208.6,309.0 209.9,309.6 212.0,310.0 213.3,309.9 214.8,310.3 216.6,310.4 218.4,310.5 220.3,310.3 222.2,310.3 223.9,310.5 225.5,310.3 226.9,310.9 228.0,311.0 230.3,314.5 231.9,312.8 234.0,311.0 235.5,310.9 237.2,311.2 240.0,312.0 241.3,312.0 242.9,312.2 244.6,312.2 246.5,312.6 248.4,312.5 250.3,312.2 252.0,312.5 253.6,312.8 255.0,312.5 257.2,312.4 258.7,312.3 260.1,311.8 262.0,312.0 263.4,312.0 265.0,312.0 266.8,312.1 268.5,312.2 270.3,312.4 272.0,312.4 273.6,312.4 275.6,312.4 277.5,312.2 279.3,312.4 281.1,312.7 283.0,312.0 284.8,311.4 286.7,310.5 288.7,309.6 290.5,309.2 292.1,308.2 293.2,308.0" fill="none" stroke="#f7bd2f" stroke-width="1.9" stroke-linejoin="round"/>
<polyline points="63.6,305.0 66.7,306.7 67.9,317.0 69.8,317.7 72.0,317.0 75.0,316.0 76.3,315.8 77.8,315.8 79.6,315.2 81.4,315.0 83.3,314.8 85.0,314.5 86.7,314.0 88.3,314.0 90.0,313.9 91.7,313.8 93.3,313.1 95.0,313.3 96.6,313.1 98.1,313.0 99.6,313.6 101.2,313.6 103.0,313.2 105.0,313.5 106.4,313.8 108.0,313.9 109.8,313.7 111.6,313.8 113.5,313.5 115.3,313.4 117.0,313.7 118.6,313.3 119.9,313.1 121.0,313.0 123.0,305.3 125.2,304.4 127.5,305.1 129.0,305.8 130.8,307.5 132.8,308.4 135.1,309.3 137.0,310.0 140.0,309.5 141.3,309.9 142.9,309.9 144.8,310.2 146.6,310.4 148.4,310.8 150.0,311.0 152.0,311.4 153.8,311.8 155.4,312.8 157.0,312.8 159.0,313.5 161.0,313.5 163.0,313.0 164.6,312.6 166.2,311.4 168.0,310.5 170.0,310.0 171.5,309.5 173.1,309.1 174.8,309.4 176.6,309.0 178.3,309.2 180.0,309.0 181.7,309.1 183.4,309.8 185.1,310.1 186.8,309.9 188.4,310.5 190.0,311.0 191.7,311.6 193.4,311.6 195.0,312.2 196.5,312.0 198.0,312.0 199.9,311.3 201.8,311.0 203.6,310.3 205.0,309.5 208.0,308.5 209.9,308.7 212.0,309.5 214.3,309.8 216.6,310.3 218.1,309.3 220.0,308.5 221.3,308.8 223.0,308.9 224.8,308.7 226.5,309.1 228.0,309.5 230.1,309.6 231.9,309.9 233.5,310.8 235.5,312.9 237.2,314.0 239.8,310.5 241.0,310.1 242.4,310.2 244.1,310.1 246.0,309.9 247.9,310.2 249.9,309.8 251.7,310.2 253.5,309.8 255.0,310.0 257.1,309.8 259.0,309.5 260.8,309.4 262.4,309.8 263.8,309.6 265.0,309.5 267.3,311.9 268.9,311.6 270.9,311.6 273.1,310.6 275.0,310.5 276.9,310.7 278.6,311.6 281.0,311.4 282.5,311.2 284.4,310.3 286.4,310.3 288.5,309.1 290.4,308.5 292.0,308.3 293.2,307.7" fill="none" stroke="#4ade18" stroke-width="1.9" stroke-linejoin="round"/>
<polyline points="63.6,305.5 66.7,307.2 67.9,317.6 69.8,318.2 72.0,317.5 75.0,316.5 76.3,316.4 77.8,316.1 79.6,315.5 81.4,315.2 83.3,315.2 85.0,315.0 86.7,314.6 88.3,314.7 90.0,314.4 91.7,314.2 93.3,314.0 95.0,313.8 96.6,313.9 98.1,313.5 99.7,313.8 101.3,313.7 103.0,314.3 105.0,314.0 106.5,313.7 108.2,314.1 110.0,313.5 111.9,313.9 113.7,313.5 115.6,313.5 117.2,313.7 118.7,313.1 120.0,313.4 122.5,313.2 123.8,314.0 125.0,314.0 126.8,314.9 128.3,314.7 130.8,307.2 132.7,306.4 135.0,307.5 136.7,308.8 138.4,310.1 140.0,310.5 141.7,308.9 143.5,308.0 144.9,308.9 146.7,310.3 148.4,312.0 150.0,313.0 151.8,312.6 153.4,310.9 155.0,310.0 156.7,309.4 158.3,308.4 160.0,308.5 161.6,308.4 163.2,309.3 165.0,309.5 166.6,309.9 168.3,310.4 170.1,311.0 172.0,311.0 173.6,310.6 175.2,309.8 176.8,308.7 178.4,308.5 180.0,308.0 181.8,308.7 183.5,309.5 185.2,310.1 187.0,310.5 188.6,310.3 190.2,310.1 191.8,309.9 193.4,309.5 195.0,309.0 196.8,308.4 198.6,308.3 200.3,308.1 202.0,308.0 204.4,307.7 206.7,307.6 208.3,307.2" fill="none" stroke="#1c1f1c" stroke-width="1.9" stroke-linejoin="round"/>
<g transform="translate(68.6,326.4) rotate(162)"><path d="M0,8.75 L-4.00,3.00 A5.0,5.0 0 1 1 4.00,3.00 Z" fill="#f50d0d"/></g><path d="M66.3,326.7 L70.9,325.5" stroke="#fff" stroke-width="1.1" opacity="0.75"/>
<g transform="translate(131.3,299.1) rotate(0)"><path d="M0,8.75 L-4.00,3.00 A5.0,5.0 0 1 1 4.00,3.00 Z" fill="#f50d0d"/></g><path d="M129.0,299.4 L133.6,298.2" stroke="#fff" stroke-width="1.1" opacity="0.75"/>
<rect x="327.5" y="224.8" width="272.0" height="146.6" fill="#fff"/>
<line x1="352.9" y1="325.50" x2="585.3" y2="325.50" stroke="#e6e6e6" stroke-width="1.2"/>
<line x1="352.9" y1="309.50" x2="585.3" y2="309.50" stroke="#e6e6e6" stroke-width="1.2"/>
<line x1="352.9" y1="293.50" x2="585.3" y2="293.50" stroke="#e6e6e6" stroke-width="1.2"/>
<line x1="352.9" y1="277.50" x2="585.3" y2="277.50" stroke="#e6e6e6" stroke-width="1.2"/>
<line x1="352.9" y1="261.50" x2="585.3" y2="261.50" stroke="#e6e6e6" stroke-width="1.2"/>
<line x1="352.9" y1="245.50" x2="585.3" y2="245.50" stroke="#e6e6e6" stroke-width="1.2"/>
<line x1="411.00" y1="245.5" x2="411.00" y2="341.5" stroke="#e6e6e6" stroke-width="1.2"/>
<line x1="469.10" y1="245.5" x2="469.10" y2="341.5" stroke="#e6e6e6" stroke-width="1.2"/>
<line x1="527.20" y1="245.5" x2="527.20" y2="341.5" stroke="#e6e6e6" stroke-width="1.2"/>
<line x1="585.30" y1="245.5" x2="585.30" y2="341.5" stroke="#e6e6e6" stroke-width="1.2"/>
<line x1="352.9" y1="245.0" x2="352.9" y2="344.0" stroke="#7d7d7d" stroke-width="1.3"/>
<line x1="352.29999999999995" y1="341.5" x2="585.3" y2="341.5" stroke="#7d7d7d" stroke-width="1.5"/>
<line x1="349.4" y1="341.50" x2="352.9" y2="341.50" stroke="#7d7d7d" stroke-width="1.1"/>
<text x="347.9" y="344.40" text-anchor="end" font-size="8" fill="#444">0</text>
<line x1="349.4" y1="325.50" x2="352.9" y2="325.50" stroke="#7d7d7d" stroke-width="1.1"/>
<text x="347.9" y="328.40" text-anchor="end" font-size="8" fill="#444">0.2</text>
<line x1="349.4" y1="309.50" x2="352.9" y2="309.50" stroke="#7d7d7d" stroke-width="1.1"/>
<text x="347.9" y="312.40" text-anchor="end" font-size="8" fill="#444">0.4</text>
<line x1="349.4" y1="293.50" x2="352.9" y2="293.50" stroke="#7d7d7d" stroke-width="1.1"/>
<text x="347.9" y="296.40" text-anchor="end" font-size="8" fill="#444">0.6</text>
<line x1="349.4" y1="277.50" x2="352.9" y2="277.50" stroke="#7d7d7d" stroke-width="1.1"/>
<text x="347.9" y="280.40" text-anchor="end" font-size="8" fill="#444">0.8</text>
<line x1="349.4" y1="261.50" x2="352.9" y2="261.50" stroke="#7d7d7d" stroke-width="1.1"/>
<text x="347.9" y="264.40" text-anchor="end" font-size="8" fill="#444">1</text>
<line x1="349.4" y1="245.50" x2="352.9" y2="245.50" stroke="#7d7d7d" stroke-width="1.1"/>
<text x="347.9" y="248.40" text-anchor="end" font-size="8" fill="#444">1.2</text>
<line x1="352.90" y1="341.5" x2="352.90" y2="344.5" stroke="#7d7d7d" stroke-width="1.1"/>
<text x="352.90" y="353.50" text-anchor="middle" font-size="8" fill="#444">00:00</text>
<line x1="411.00" y1="341.5" x2="411.00" y2="344.5" stroke="#7d7d7d" stroke-width="1.1"/>
<text x="411.00" y="353.50" text-anchor="middle" font-size="8" fill="#444">06:00</text>
<line x1="469.10" y1="341.5" x2="469.10" y2="344.5" stroke="#7d7d7d" stroke-width="1.1"/>
<text x="469.10" y="353.50" text-anchor="middle" font-size="8" fill="#444">12:00</text>
<line x1="527.20" y1="341.5" x2="527.20" y2="344.5" stroke="#7d7d7d" stroke-width="1.1"/>
<text x="527.20" y="353.50" text-anchor="middle" font-size="8" fill="#444">18:00</text>
<line x1="585.30" y1="341.5" x2="585.30" y2="344.5" stroke="#7d7d7d" stroke-width="1.1"/>
<text x="585.30" y="353.50" text-anchor="middle" font-size="8" fill="#444">24:00</text>
<text x="352.9" y="235.30" text-anchor="middle" font-size="9" fill="#444">Mpa</text>
<text x="422.40" y="367.60" font-size="9.6" fill="#4592f2" textLength="81.4" lengthAdjust="spacingAndGlyphs">明珠大道碧桂园258</text>
<line x1="352.9" y1="305.1" x2="582.80" y2="305.1" stroke="#f0465c" stroke-width="2.2"/>
<line x1="352.9" y1="321.3" x2="582.80" y2="321.3" stroke="#f0465c" stroke-width="2.2"/>
<polyline points="352.6,309.5 355.5,311.5 357.0,320.0 358.7,319.7 361.0,318.5 362.8,318.1 364.9,317.6 367.0,317.0 368.6,316.9 370.2,316.2 372.0,316.0 374.0,316.0 375.5,315.6 377.1,315.6 378.8,315.9 380.6,315.4 382.3,315.6 384.0,315.5 385.7,315.2 387.4,315.2 389.2,315.3 390.9,315.5 392.5,315.3 394.0,315.2 396.0,314.7 397.8,314.8 399.5,314.6 401.0,314.8 402.9,315.2 404.5,315.5 406.0,315.5 408.0,315.7 410.0,315.5 411.6,316.2 413.3,316.8 414.8,317.0 418.0,316.5 420.0,309.0 421.8,309.8 424.0,311.5 425.8,313.5 427.7,315.3 429.5,316.5 431.5,314.5 433.5,312.0 435.3,313.1 437.3,315.5 439.0,316.5 442.0,312.5 443.5,312.1 445.3,311.9 447.0,312.0 448.7,312.0 450.4,312.2 452.0,312.5 453.9,313.1 456.0,314.0 457.9,314.0 460.1,314.7 462.0,314.5 464.2,314.3 466.0,313.5 469.0,312.0 470.5,313.2 472.3,314.3 474.0,315.0 475.5,315.0 477.0,314.7 479.0,314.0 480.4,313.5 482.1,313.5 484.0,312.9 485.9,312.4 487.6,312.0 489.0,312.0 491.0,311.7 492.4,311.4 494.0,311.5 495.5,311.4 497.2,311.6 499.0,311.5 501.0,311.5 502.5,311.1 504.3,311.2 506.1,310.8 507.9,310.7 509.5,310.6 511.0,311.0 513.4,311.9 515.4,313.0 517.0,314.5 519.3,315.9 521.3,314.0 523.6,311.7 525.0,311.6 526.4,311.3 529.0,311.5 530.3,311.7 531.8,311.9 533.6,311.4 535.4,311.6 537.4,312.2 539.2,312.4 541.0,312.4 542.6,312.1 544.0,312.5 546.4,312.7 548.2,313.4 549.7,313.6 551.0,313.5 554.0,313.0 555.2,312.8 556.6,311.9 559.0,312.0 560.4,312.4 562.0,312.5 563.9,313.2 565.9,313.2 567.9,314.3 569.8,314.3 571.6,314.6 573.2,314.3 575.5,313.3 577.6,312.2 579.5,310.5 581.1,309.1 582.2,308.0" fill="none" stroke="#f7bd2f" stroke-width="1.9" stroke-linejoin="round"/>
<polyline points="352.6,308.0 355.5,310.0 357.0,318.8 358.7,318.5 361.0,317.5 362.8,317.1 364.9,316.6 367.0,316.0 368.6,316.0 370.2,315.3 372.0,315.0 374.0,315.0 375.5,315.0 377.1,314.9 378.8,314.6 380.6,314.8 382.3,314.5 384.0,314.5 385.7,314.6 387.4,314.1 389.2,314.2 390.9,314.6 392.5,314.2 394.0,314.2 396.0,313.9 397.8,314.2 399.5,313.9 401.0,313.8 402.9,313.7 404.5,314.3 406.0,314.5 408.2,314.7 410.0,314.5 411.2,314.0 414.0,308.0 415.8,307.2 418.0,307.7 420.0,308.0 422.0,309.1 424.0,311.0 425.8,311.9 427.7,312.8 429.5,313.5 431.5,312.0 433.5,311.0 435.3,312.0 437.3,312.8 439.0,313.5 442.0,310.5 443.5,310.3 445.3,309.6 447.0,309.5 448.7,309.7 450.4,310.1 452.0,310.0 453.9,309.8 456.0,309.5 457.9,309.4 460.1,310.1 462.0,310.5 464.2,311.7 466.0,312.5 469.0,311.0 470.5,310.8 472.3,311.0 474.0,311.5 475.5,312.0 477.0,311.9 479.0,312.0 480.4,311.7 482.1,311.8 484.0,311.6 485.9,311.8 487.6,311.5 489.0,311.5 491.0,311.4 492.4,312.1 494.0,312.0 495.7,311.6 497.5,311.6 499.3,311.2 501.0,311.5 502.8,311.8 504.4,311.7 506.0,312.0 507.6,311.6 509.2,310.6 510.9,310.6 512.9,311.0 515.0,311.9 517.0,312.5 519.4,313.4 521.5,314.3 523.7,316.1 525.7,317.0 528.8,311.7 530.1,311.4 531.8,311.2 533.7,311.3 535.6,311.0 537.4,311.4 539.0,311.5 541.0,311.3 542.8,311.8 544.5,312.0 546.0,312.0 547.8,312.3 549.5,313.2 551.0,314.3 553.2,315.8 555.2,316.2 558.4,311.5 559.8,311.3 561.5,310.7 563.5,311.2 565.5,311.5 567.4,311.3 569.0,311.5 571.4,312.2 573.3,313.4 575.3,313.8 577.1,313.5 579.1,311.9 580.9,310.8 582.2,310.1" fill="none" stroke="#4ade18" stroke-width="1.9" stroke-linejoin="round"/>
<polyline points="352.6,308.5 355.5,310.5 357.0,319.4 358.7,319.7 361.0,318.0 362.8,317.1 364.9,317.1 367.0,316.5 368.6,316.0 370.2,316.3 372.0,315.4 374.0,315.5 375.5,315.6 377.1,315.4 378.8,315.4 380.6,315.3 382.3,314.7 384.0,314.8 385.7,314.6 387.4,314.8 389.2,314.5 390.9,314.4 392.5,314.4 394.0,314.5 396.0,314.6 397.8,314.4 399.5,314.2 401.0,314.0 402.9,314.1 404.5,315.0 406.0,315.0 408.1,314.9 410.0,314.8 412.0,315.2 414.0,316.0 416.1,316.8 418.0,316.5 420.0,308.5 421.8,309.0 424.0,311.0 425.8,312.0 427.7,313.8 429.5,314.5 431.5,312.8 433.5,311.5 435.3,313.0 437.3,315.5 439.0,316.5 442.0,312.0 443.5,311.6 445.3,311.4 447.0,311.5 448.7,311.8 450.4,312.0 452.0,312.0 453.9,313.2 456.0,314.5 457.9,315.5 460.1,315.4 462.0,316.0 464.2,315.3 466.0,314.5 469.0,311.5 470.5,311.1 472.3,311.9 474.0,312.0 475.5,312.9 477.0,313.8 479.0,314.0 480.4,313.7 482.0,313.5 483.8,313.2 485.6,312.1 487.4,311.6 489.0,311.5 490.9,310.8 492.7,310.7 494.5,310.7 495.9,310.2 497.0,310.0" fill="none" stroke="#1c1f1c" stroke-width="1.9" stroke-linejoin="round"/>
<g transform="translate(358,328.5) rotate(162)"><path d="M0,8.75 L-4.00,3.00 A5.0,5.0 0 1 1 4.00,3.00 Z" fill="#f50d0d"/></g><path d="M355.7,328.8 L360.3,327.6" stroke="#fff" stroke-width="1.1" opacity="0.75"/>
<rect x="617.0" y="224.8" width="272.0" height="146.6" fill="#fff"/>
<line x1="642.4" y1="325.50" x2="874.8" y2="325.50" stroke="#e6e6e6" stroke-width="1.2"/>
<line x1="642.4" y1="309.50" x2="874.8" y2="309.50" stroke="#e6e6e6" stroke-width="1.2"/>
<line x1="642.4" y1="293.50" x2="874.8" y2="293.50" stroke="#e6e6e6" stroke-width="1.2"/>
<line x1="642.4" y1="277.50" x2="874.8" y2="277.50" stroke="#e6e6e6" stroke-width="1.2"/>
<line x1="642.4" y1="261.50" x2="874.8" y2="261.50" stroke="#e6e6e6" stroke-width="1.2"/>
<line x1="642.4" y1="245.50" x2="874.8" y2="245.50" stroke="#e6e6e6" stroke-width="1.2"/>
<line x1="700.50" y1="245.5" x2="700.50" y2="341.5" stroke="#e6e6e6" stroke-width="1.2"/>
<line x1="758.60" y1="245.5" x2="758.60" y2="341.5" stroke="#e6e6e6" stroke-width="1.2"/>
<line x1="816.70" y1="245.5" x2="816.70" y2="341.5" stroke="#e6e6e6" stroke-width="1.2"/>
<line x1="874.80" y1="245.5" x2="874.80" y2="341.5" stroke="#e6e6e6" stroke-width="1.2"/>
<line x1="642.4" y1="245.0" x2="642.4" y2="344.0" stroke="#7d7d7d" stroke-width="1.3"/>
<line x1="641.8" y1="341.5" x2="874.8" y2="341.5" stroke="#7d7d7d" stroke-width="1.5"/>
<line x1="638.9" y1="341.50" x2="642.4" y2="341.50" stroke="#7d7d7d" stroke-width="1.1"/>
<text x="637.4" y="344.40" text-anchor="end" font-size="8" fill="#444">0</text>
<line x1="638.9" y1="325.50" x2="642.4" y2="325.50" stroke="#7d7d7d" stroke-width="1.1"/>
<text x="637.4" y="328.40" text-anchor="end" font-size="8" fill="#444">0.2</text>
<line x1="638.9" y1="309.50" x2="642.4" y2="309.50" stroke="#7d7d7d" stroke-width="1.1"/>
<text x="637.4" y="312.40" text-anchor="end" font-size="8" fill="#444">0.4</text>
<line x1="638.9" y1="293.50" x2="642.4" y2="293.50" stroke="#7d7d7d" stroke-width="1.1"/>
<text x="637.4" y="296.40" text-anchor="end" font-size="8" fill="#444">0.6</text>
<line x1="638.9" y1="277.50" x2="642.4" y2="277.50" stroke="#7d7d7d" stroke-width="1.1"/>
<text x="637.4" y="280.40" text-anchor="end" font-size="8" fill="#444">0.8</text>
<line x1="638.9" y1="261.50" x2="642.4" y2="261.50" stroke="#7d7d7d" stroke-width="1.1"/>
<text x="637.4" y="264.40" text-anchor="end" font-size="8" fill="#444">1</text>
<line x1="638.9" y1="245.50" x2="642.4" y2="245.50" stroke="#7d7d7d" stroke-width="1.1"/>
<text x="637.4" y="248.40" text-anchor="end" font-size="8" fill="#444">1.2</text>
<line x1="642.40" y1="341.5" x2="642.40" y2="344.5" stroke="#7d7d7d" stroke-width="1.1"/>
<text x="642.40" y="353.50" text-anchor="middle" font-size="8" fill="#444">00:00</text>
<line x1="700.50" y1="341.5" x2="700.50" y2="344.5" stroke="#7d7d7d" stroke-width="1.1"/>
<text x="700.50" y="353.50" text-anchor="middle" font-size="8" fill="#444">06:00</text>
<line x1="758.60" y1="341.5" x2="758.60" y2="344.5" stroke="#7d7d7d" stroke-width="1.1"/>
<text x="758.60" y="353.50" text-anchor="middle" font-size="8" fill="#444">12:00</text>
<line x1="816.70" y1="341.5" x2="816.70" y2="344.5" stroke="#7d7d7d" stroke-width="1.1"/>
<text x="816.70" y="353.50" text-anchor="middle" font-size="8" fill="#444">18:00</text>
<line x1="874.80" y1="341.5" x2="874.80" y2="344.5" stroke="#7d7d7d" stroke-width="1.1"/>
<text x="874.80" y="353.50" text-anchor="middle" font-size="8" fill="#444">24:00</text>
<text x="642.4" y="235.30" text-anchor="middle" font-size="9" fill="#444">Mpa</text>
<text x="716.40" y="367.60" font-size="9.6" fill="#4592f2" textLength="76.0" lengthAdjust="spacingAndGlyphs">民旺路兴隆路出口</text>
<line x1="642.4" y1="320.3" x2="872.30" y2="320.3" stroke="#f0465c" stroke-width="2.2"/>
<line x1="642.4" y1="330.7" x2="872.30" y2="330.7" stroke="#f0465c" stroke-width="2.2"/>
<polyline points="643.6,330.0 645.1,329.9 647.0,330.0 650.0,330.0 651.5,329.9 653.3,329.7 655.0,329.5 656.5,329.0 658.0,328.4 660.0,328.0 661.3,328.0 662.6,327.6 664.1,327.8 665.7,327.3 667.7,327.4 670.0,327.5 671.4,327.3 672.9,327.2 674.6,327.5 676.5,327.2 678.4,327.5 680.3,327.5 682.2,327.0 684.1,327.4 685.8,327.3 687.4,327.2 688.8,326.7 690.0,327.0 692.9,326.9 694.0,327.0 695.0,327.0 698.0,328.0 699.5,328.3 701.4,328.8 703.4,329.3 705.0,329.5 707.2,328.4 709.0,327.0 710.6,325.5 712.7,324.0 714.3,323.8 716.3,324.0 718.3,324.4 720.0,324.5 721.6,325.0 722.9,324.8 725.0,325.0 726.4,324.6 728.0,325.1 729.8,324.7 731.7,324.5 733.5,324.1 735.2,323.8 736.7,324.0 738.7,324.2 740.3,325.1 741.8,326.0 743.3,326.5 744.9,326.1 746.4,326.0 748.1,325.5 750.0,325.0 751.5,324.6 753.1,325.1 754.8,324.9 756.5,325.2 758.3,324.9 760.0,325.0 761.7,325.3 763.3,325.1 765.0,325.4 766.7,325.4 768.3,325.1 770.0,325.5 771.7,325.2 773.3,325.2 775.0,325.2 776.7,325.0 778.3,325.1 780.0,325.0 781.7,325.2 783.3,325.1 785.0,325.2 786.7,325.5 788.3,326.0 790.0,325.7 791.7,325.8 793.3,325.6 795.0,325.6 796.7,325.0 798.3,324.8 800.0,325.0 801.7,324.7 803.3,324.8 805.0,324.9 806.7,325.4 808.3,325.7 810.0,325.5 811.7,325.2 813.3,325.6 815.0,325.7 816.7,325.5 818.3,325.0 820.0,325.2 821.7,325.3 823.3,325.2 825.0,325.2 826.7,325.3 828.3,325.7 830.0,325.7 831.7,325.9 833.3,325.2 835.0,325.1 836.7,325.1 838.3,324.7 840.0,325.0 841.7,325.0 843.3,325.3 845.0,325.3 846.7,325.1 848.3,325.2 850.0,325.6 851.6,325.4 853.2,325.6 854.8,325.6 856.4,325.2 858.2,324.8 860.0,325.0 861.6,324.8 863.3,324.9 865.2,324.7 867.1,324.7 868.9,324.9 870.6,325.2 872.0,324.8 873.0,325.0" fill="none" stroke="#f7bd2f" stroke-width="1.9" stroke-linejoin="round"/>
<polyline points="643.6,322.0 645.1,323.0 647.0,324.5 650.0,328.7 651.5,329.2 653.3,329.1 655.0,328.5 656.5,327.9 658.0,327.7 660.0,327.0 661.3,327.0 662.6,326.9 664.1,326.4 665.7,326.3 667.7,326.5 670.0,326.5 671.4,326.6 672.9,326.2 674.6,326.4 676.5,326.2 678.4,326.5 680.3,326.5 682.2,326.1 684.1,326.5 685.8,325.8 687.4,326.3 688.8,326.3 690.0,326.0 692.9,325.7 694.0,326.1 695.0,326.0 698.0,326.5 699.5,325.7 701.2,324.7 703.0,323.5 705.0,323.1 707.1,323.5 709.0,323.5 710.8,323.5 712.7,323.0 714.3,323.3 716.3,323.3 718.3,323.5 720.0,324.0 721.6,324.6 722.9,324.4 725.0,324.5 726.4,324.8 728.0,324.0 729.8,324.2 731.7,324.0 733.5,323.9 735.2,323.2 736.7,323.5 738.7,323.8 740.3,324.2 741.8,325.3 743.3,325.5 744.9,325.3 746.4,325.4 748.1,324.7 750.0,324.5 751.5,324.6 753.1,324.7 754.8,324.2 756.5,324.5 758.3,324.8 760.0,324.5 761.7,324.6 763.3,324.6 765.0,324.6 766.7,325.1 768.3,324.8 770.0,325.0 771.7,325.0 773.3,324.9 775.0,324.8 776.7,324.4 778.3,324.6 780.0,324.5 781.7,324.8 783.3,324.5 785.0,324.6 786.7,325.2 788.3,325.0 790.0,325.0 791.7,324.8 793.3,324.5 795.0,324.9 796.7,324.5 798.3,324.5 800.0,324.5 801.7,324.4 803.3,324.7 805.0,324.9 806.7,324.7 808.3,324.7 810.0,325.0 811.7,325.3 813.3,325.1 815.0,324.4 816.7,324.7 818.3,324.7 820.0,324.5 821.7,324.5 823.3,324.9 825.0,325.2 826.7,325.1 828.3,325.1 830.0,325.2 831.7,324.9 833.3,324.9 835.0,324.6 836.7,324.4 838.3,324.4 840.0,324.5 841.7,324.8 843.3,324.6 845.0,325.0 846.7,325.2 848.3,325.2 850.0,325.0 851.6,324.7 853.2,325.2 854.8,324.5 856.4,324.9 858.2,324.8 860.0,324.5 861.6,324.6 863.3,324.4 865.2,324.1 867.1,324.1 868.9,324.4 870.6,324.1 872.0,324.3 873.0,324.3" fill="none" stroke="#4ade18" stroke-width="1.9" stroke-linejoin="round"/>
<polyline points="643.6,323.5 645.1,324.0 647.0,325.5 650.0,329.7 651.5,330.0 653.3,329.4 655.0,329.0 656.5,328.3 658.0,327.9 660.0,327.5 661.3,327.4 662.6,327.2 664.1,327.2 665.7,327.0 667.7,326.9 670.0,327.0 671.4,327.1 672.9,326.8 674.6,327.0 676.5,327.0 678.4,327.0 680.3,327.0 682.2,326.5 684.1,326.4 685.8,326.8 687.4,326.6 688.8,326.3 690.0,326.5 692.9,326.5 694.1,326.7 695.0,326.5 696.7,327.7 698.2,327.6 700.2,326.7 702.0,326.5 703.9,326.8 706.0,327.0 707.5,325.9 709.1,325.5 710.9,323.8 712.7,323.3 714.5,323.3 716.5,323.4 718.3,323.8 720.0,324.0 721.6,324.3 722.9,324.7 725.0,324.5 726.4,324.5 728.0,324.1 729.8,323.7 731.7,323.7 733.5,323.9 735.2,323.2 736.7,323.5 738.7,324.1 740.3,324.9 741.8,325.3 743.3,326.0 745.1,325.7 747.0,325.5 748.7,324.8 750.0,324.5 751.3,324.5" fill="none" stroke="#1c1f1c" stroke-width="1.9" stroke-linejoin="round"/>
<rect x="38.0" y="379.8" width="272.0" height="146.6" fill="#fff"/>
<line x1="63.4" y1="479.80" x2="295.8" y2="479.80" stroke="#e6e6e6" stroke-width="1.2"/>
<line x1="63.4" y1="463.80" x2="295.8" y2="463.80" stroke="#e6e6e6" stroke-width="1.2"/>
<line x1="63.4" y1="447.80" x2="295.8" y2="447.80" stroke="#e6e6e6" stroke-width="1.2"/>
<line x1="63.4" y1="431.80" x2="295.8" y2="431.80" stroke="#e6e6e6" stroke-width="1.2"/>
<line x1="63.4" y1="415.80" x2="295.8" y2="415.80" stroke="#e6e6e6" stroke-width="1.2"/>
<line x1="63.4" y1="399.80" x2="295.8" y2="399.80" stroke="#e6e6e6" stroke-width="1.2"/>
<line x1="121.50" y1="399.8" x2="121.50" y2="495.8" stroke="#e6e6e6" stroke-width="1.2"/>
<line x1="179.60" y1="399.8" x2="179.60" y2="495.8" stroke="#e6e6e6" stroke-width="1.2"/>
<line x1="237.70" y1="399.8" x2="237.70" y2="495.8" stroke="#e6e6e6" stroke-width="1.2"/>
<line x1="295.80" y1="399.8" x2="295.80" y2="495.8" stroke="#e6e6e6" stroke-width="1.2"/>
<line x1="63.4" y1="399.3" x2="63.4" y2="498.3" stroke="#7d7d7d" stroke-width="1.3"/>
<line x1="62.8" y1="495.8" x2="295.8" y2="495.8" stroke="#7d7d7d" stroke-width="1.5"/>
<line x1="59.9" y1="495.80" x2="63.4" y2="495.80" stroke="#7d7d7d" stroke-width="1.1"/>
<text x="58.4" y="498.70" text-anchor="end" font-size="8" fill="#444">0</text>
<line x1="59.9" y1="479.80" x2="63.4" y2="479.80" stroke="#7d7d7d" stroke-width="1.1"/>
<text x="58.4" y="482.70" text-anchor="end" font-size="8" fill="#444">0.2</text>
<line x1="59.9" y1="463.80" x2="63.4" y2="463.80" stroke="#7d7d7d" stroke-width="1.1"/>
<text x="58.4" y="466.70" text-anchor="end" font-size="8" fill="#444">0.4</text>
<line x1="59.9" y1="447.80" x2="63.4" y2="447.80" stroke="#7d7d7d" stroke-width="1.1"/>
<text x="58.4" y="450.70" text-anchor="end" font-size="8" fill="#444">0.6</text>
<line x1="59.9" y1="431.80" x2="63.4" y2="431.80" stroke="#7d7d7d" stroke-width="1.1"/>
<text x="58.4" y="434.70" text-anchor="end" font-size="8" fill="#444">0.8</text>
<line x1="59.9" y1="415.80" x2="63.4" y2="415.80" stroke="#7d7d7d" stroke-width="1.1"/>
<text x="58.4" y="418.70" text-anchor="end" font-size="8" fill="#444">1</text>
<line x1="59.9" y1="399.80" x2="63.4" y2="399.80" stroke="#7d7d7d" stroke-width="1.1"/>
<text x="58.4" y="402.70" text-anchor="end" font-size="8" fill="#444">1.2</text>
<line x1="63.40" y1="495.8" x2="63.40" y2="498.8" stroke="#7d7d7d" stroke-width="1.1"/>
<text x="63.40" y="507.80" text-anchor="middle" font-size="8" fill="#444">00:00</text>
<line x1="121.50" y1="495.8" x2="121.50" y2="498.8" stroke="#7d7d7d" stroke-width="1.1"/>
<text x="121.50" y="507.80" text-anchor="middle" font-size="8" fill="#444">06:00</text>
<line x1="179.60" y1="495.8" x2="179.60" y2="498.8" stroke="#7d7d7d" stroke-width="1.1"/>
<text x="179.60" y="507.80" text-anchor="middle" font-size="8" fill="#444">12:00</text>
<line x1="237.70" y1="495.8" x2="237.70" y2="498.8" stroke="#7d7d7d" stroke-width="1.1"/>
<text x="237.70" y="507.80" text-anchor="middle" font-size="8" fill="#444">18:00</text>
<line x1="295.80" y1="495.8" x2="295.80" y2="498.8" stroke="#7d7d7d" stroke-width="1.1"/>
<text x="295.80" y="507.80" text-anchor="middle" font-size="8" fill="#444">24:00</text>
<text x="63.4" y="390.30" text-anchor="middle" font-size="9" fill="#444">Mpa</text>
<text x="131.30" y="522.60" font-size="9.6" fill="#4592f2" textLength="85.2" lengthAdjust="spacingAndGlyphs">湖南路与两塘路出口</text>
<line x1="63.4" y1="463.7" x2="293.30" y2="463.7" stroke="#f0465c" stroke-width="2.2"/>
<line x1="63.4" y1="475.7" x2="293.30" y2="475.7" stroke="#f0465c" stroke-width="2.2"/>
<polyline points="64.0,476.0 65.3,476.2 67.1,476.3 69.0,476.0 70.8,475.6 72.7,475.0 75.0,474.5 76.4,474.2 78.0,474.5 79.8,473.8 81.5,473.5 83.3,473.5 85.0,473.5 86.6,473.2 88.1,473.2 89.7,473.1 91.3,472.9 93.0,473.0 95.0,473.0 96.5,472.8 98.1,472.9 99.9,472.6 101.7,472.4 103.5,472.5 105.3,472.7 107.0,472.5 108.6,472.7 110.0,472.5 112.1,472.7 113.8,472.4 115.3,472.1 116.6,472.6 118.0,472.5 120.2,472.9 122.2,473.0 124.0,473.5 126.1,474.7 128.0,475.0 129.9,472.3 132.0,470.0 133.9,470.6 136.0,471.7 138.0,472.5 139.9,473.5 141.7,474.4 143.3,474.5 145.0,473.7 147.0,473.0 148.3,472.9 149.9,473.0 151.6,473.1 153.3,472.8 155.0,473.0 156.6,472.9 158.2,473.4 159.7,473.3 161.3,474.0 163.0,474.0 164.8,473.8 166.6,474.2 168.4,474.3 170.2,474.2 172.0,474.5 173.6,474.5 175.0,474.5 176.4,474.4 178.0,474.7 180.0,474.5 181.4,474.8 182.9,475.0 184.7,474.6 186.4,474.6 188.3,475.0 190.0,475.0 191.7,475.5 193.2,475.3 194.4,475.5 196.8,475.2 198.1,475.1 200.0,475.0 201.3,474.8 202.7,474.8 204.2,474.4 205.9,474.1 207.8,474.2 210.0,474.0 211.4,473.6 213.0,473.7 214.7,474.0 216.6,474.0 218.5,473.5 220.4,473.5 222.3,473.8 224.0,473.9 225.6,473.5 226.9,473.9 228.0,474.0 230.6,476.0 230.8,474.7 235.0,473.5 236.0,473.2 237.2,473.2 238.6,473.3 240.1,473.5 241.7,473.3 243.4,473.7 245.1,473.9 247.0,473.8 248.9,473.5 250.9,473.9 252.8,474.0 254.8,473.6 256.8,474.0 258.7,474.3 260.6,474.5 262.4,474.6 264.1,474.4 265.8,474.5 267.3,474.8 268.7,474.3 270.0,474.5 272.6,474.5 274.8,474.2 276.7,474.6 278.4,474.4 279.9,474.0 281.3,473.9 282.5,474.1 283.8,474.2 285.0,474.0 287.2,473.9 289.1,474.2 290.7,474.6 292.0,474.7 293.0,475.0" fill="none" stroke="#f7bd2f" stroke-width="1.9" stroke-linejoin="round"/>
<polyline points="64.0,470.5 67.0,472.0 69.0,474.5 70.6,474.6 72.6,473.7 75.0,473.0 76.4,473.0 78.0,472.9 79.8,472.3 81.5,472.4 83.3,472.4 85.0,472.0 86.6,472.1 88.1,471.8 89.7,471.5 91.3,471.6 93.0,471.9 95.0,471.5 96.5,471.2 98.1,471.3 99.9,471.6 101.7,471.2 103.5,471.0 105.3,471.0 107.0,471.4 108.6,470.9 110.0,471.0 112.1,470.9 113.9,471.1 115.5,471.3 116.8,471.1 118.0,471.0 121.0,470.0 124.0,467.5 125.5,467.0 127.4,467.2 129.4,466.9 131.0,467.5 133.2,468.4 135.0,470.0 138.0,471.0 139.7,472.0 141.6,473.9 143.3,474.5 145.0,473.1 147.0,471.5 148.3,471.4 149.9,471.0 151.6,471.0 153.3,471.1 155.0,471.5 156.7,471.8 158.4,472.2 160.1,472.0 161.7,472.2 163.0,472.5 165.2,471.6 167.0,471.5 168.5,472.0 170.1,472.3 172.0,473.0 173.5,472.9 175.1,473.4 176.9,473.5 178.5,473.4 180.0,473.5 181.9,473.2 183.4,473.3 185.0,473.0 186.7,472.8 188.4,472.4 190.0,472.5 192.2,473.5 194.4,474.9 196.0,475.3 197.8,475.1 200.0,474.5 201.4,474.4 203.0,474.2 204.7,473.5 206.5,473.0 208.3,472.5 210.0,472.5 211.7,472.5 213.4,472.3 215.1,472.3 216.8,472.7 218.4,472.7 220.0,472.5 221.8,472.3 223.6,472.8 225.3,472.3 226.8,472.9 228.0,473.0 230.6,475.6 232.3,473.7 235.0,472.0 236.2,472.1 237.4,472.5 238.7,472.5 240.3,473.1 242.4,473.0 245.0,473.5 246.3,473.7 247.7,473.3 249.2,473.6 250.9,473.5 252.6,473.3 254.4,473.8 256.3,473.3 258.1,473.5 260.0,473.3 261.9,473.7 263.7,473.4 265.4,473.2 267.1,473.2 268.6,473.3 270.0,473.5 272.2,473.5 274.2,473.1 276.1,473.0 277.9,473.4 279.6,473.3 281.1,472.9 282.5,473.0 283.8,472.8 285.0,473.0 287.5,472.6 288.9,472.4 290.0,472.5 293.0,474.0" fill="none" stroke="#4ade18" stroke-width="1.9" stroke-linejoin="round"/>
<polyline points="64.0,472.5 66.0,474.0 68.7,475.7 70.5,475.5 72.6,474.4 75.0,473.5 76.5,473.2 78.1,472.9 79.8,473.1 81.5,473.0 83.3,472.6 85.0,472.5 86.6,472.4 88.1,472.1 89.7,471.9 91.3,472.1 93.0,472.1 95.0,472.0 96.5,471.6 98.1,472.1 99.9,471.6 101.7,471.6 103.5,471.4 105.3,472.0 107.0,471.7 108.6,471.8 110.0,471.5 112.1,471.5 113.8,471.1 115.3,471.3 116.6,471.4 118.0,471.5 120.2,471.5 122.2,472.4 124.0,472.5 126.1,473.7 128.0,474.3 129.9,471.4 132.0,469.0 133.9,469.4 136.0,470.0 138.0,471.5 139.9,473.1 141.7,474.2 143.3,475.0 145.0,473.8 147.0,472.0 148.3,471.7 149.9,471.7 151.6,471.6 153.3,471.6 155.0,472.0 156.7,472.4 158.4,472.2 160.1,472.9 161.7,472.7 163.0,473.0 165.2,472.8 167.0,472.0 168.8,472.8 170.7,473.5 172.0,474.0" fill="none" stroke="#1c1f1c" stroke-width="1.9" stroke-linejoin="round"/>
<rect x="327.5" y="379.8" width="272.0" height="146.6" fill="#fff"/>
<line x1="352.9" y1="479.80" x2="585.3" y2="479.80" stroke="#e6e6e6" stroke-width="1.2"/>
<line x1="352.9" y1="463.80" x2="585.3" y2="463.80" stroke="#e6e6e6" stroke-width="1.2"/>
<line x1="352.9" y1="447.80" x2="585.3" y2="447.80" stroke="#e6e6e6" stroke-width="1.2"/>
<line x1="352.9" y1="431.80" x2="585.3" y2="431.80" stroke="#e6e6e6" stroke-width="1.2"/>
<line x1="352.9" y1="415.80" x2="585.3" y2="415.80" stroke="#e6e6e6" stroke-width="1.2"/>
<line x1="352.9" y1="399.80" x2="585.3" y2="399.80" stroke="#e6e6e6" stroke-width="1.2"/>
<line x1="411.00" y1="399.8" x2="411.00" y2="495.8" stroke="#e6e6e6" stroke-width="1.2"/>
<line x1="469.10" y1="399.8" x2="469.10" y2="495.8" stroke="#e6e6e6" stroke-width="1.2"/>
<line x1="527.20" y1="399.8" x2="527.20" y2="495.8" stroke="#e6e6e6" stroke-width="1.2"/>
<line x1="585.30" y1="399.8" x2="585.30" y2="495.8" stroke="#e6e6e6" stroke-width="1.2"/>
<line x1="352.9" y1="399.3" x2="352.9" y2="498.3" stroke="#7d7d7d" stroke-width="1.3"/>
<line x1="352.29999999999995" y1="495.8" x2="585.3" y2="495.8" stroke="#7d7d7d" stroke-width="1.5"/>
<line x1="349.4" y1="495.80" x2="352.9" y2="495.80" stroke="#7d7d7d" stroke-width="1.1"/>
<text x="347.9" y="498.70" text-anchor="end" font-size="8" fill="#444">0</text>
<line x1="349.4" y1="479.80" x2="352.9" y2="479.80" stroke="#7d7d7d" stroke-width="1.1"/>
<text x="347.9" y="482.70" text-anchor="end" font-size="8" fill="#444">0.2</text>
<line x1="349.4" y1="463.80" x2="352.9" y2="463.80" stroke="#7d7d7d" stroke-width="1.1"/>
<text x="347.9" y="466.70" text-anchor="end" font-size="8" fill="#444">0.4</text>
<line x1="349.4" y1="447.80" x2="352.9" y2="447.80" stroke="#7d7d7d" stroke-width="1.1"/>
<text x="347.9" y="450.70" text-anchor="end" font-size="8" fill="#444">0.6</text>
<line x1="349.4" y1="431.80" x2="352.9" y2="431.80" stroke="#7d7d7d" stroke-width="1.1"/>
<text x="347.9" y="434.70" text-anchor="end" font-size="8" fill="#444">0.8</text>
<line x1="349.4" y1="415.80" x2="352.9" y2="415.80" stroke="#7d7d7d" stroke-width="1.1"/>
<text x="347.9" y="418.70" text-anchor="end" font-size="8" fill="#444">1</text>
<line x1="349.4" y1="399.80" x2="352.9" y2="399.80" stroke="#7d7d7d" stroke-width="1.1"/>
<text x="347.9" y="402.70" text-anchor="end" font-size="8" fill="#444">1.2</text>
<line x1="352.90" y1="495.8" x2="352.90" y2="498.8" stroke="#7d7d7d" stroke-width="1.1"/>
<text x="352.90" y="507.80" text-anchor="middle" font-size="8" fill="#444">00:00</text>
<line x1="411.00" y1="495.8" x2="411.00" y2="498.8" stroke="#7d7d7d" stroke-width="1.1"/>
<text x="411.00" y="507.80" text-anchor="middle" font-size="8" fill="#444">06:00</text>
<line x1="469.10" y1="495.8" x2="469.10" y2="498.8" stroke="#7d7d7d" stroke-width="1.1"/>
<text x="469.10" y="507.80" text-anchor="middle" font-size="8" fill="#444">12:00</text>
<line x1="527.20" y1="495.8" x2="527.20" y2="498.8" stroke="#7d7d7d" stroke-width="1.1"/>
<text x="527.20" y="507.80" text-anchor="middle" font-size="8" fill="#444">18:00</text>
<line x1="585.30" y1="495.8" x2="585.30" y2="498.8" stroke="#7d7d7d" stroke-width="1.1"/>
<text x="585.30" y="507.80" text-anchor="middle" font-size="8" fill="#444">24:00</text>
<text x="352.9" y="390.30" text-anchor="middle" font-size="9" fill="#444">Mpa</text>
<text x="415.80" y="522.60" font-size="9.6" fill="#4592f2" textLength="96.2" lengthAdjust="spacingAndGlyphs">邵东大道与公园路出口</text>
<line x1="352.9" y1="459.7" x2="582.80" y2="459.7" stroke="#f0465c" stroke-width="2.2"/>
<line x1="352.9" y1="471.3" x2="582.80" y2="471.3" stroke="#f0465c" stroke-width="2.2"/>
<polyline points="353.3,469.5 354.7,470.3 356.6,470.4 358.7,471.0 360.6,470.4 362.6,470.4 365.0,469.5 366.4,469.1 367.9,468.9 369.5,469.1 371.2,468.7 373.0,468.9 375.0,468.5 376.5,468.2 378.1,468.6 379.8,468.0 381.6,468.1 383.4,468.2 385.2,467.9 386.9,468.0 388.5,467.7 390.0,467.5 392.0,467.1 393.9,467.6 395.6,467.3 397.2,467.1 398.7,466.9 400.0,467.0 402.0,466.9 403.4,466.2 405.0,466.0 406.7,466.5 408.5,466.8 410.4,467.4 412.0,467.5 414.6,468.4 416.7,468.5 418.3,466.5 420.0,464.5 421.8,464.9 423.8,465.7 426.0,467.0 427.7,468.2 429.5,468.7 431.2,469.9 432.7,470.0 434.8,468.9 437.0,467.0 438.2,467.1 439.5,466.9 441.0,467.7 442.8,467.9 445.0,468.0 446.3,467.8 447.8,467.7 449.4,468.1 451.2,467.7 452.9,468.4 454.7,468.1 456.5,468.0 458.1,468.0 459.6,468.1 461.0,468.0 463.2,468.2 464.8,467.7 466.3,467.7 468.0,467.9 470.0,468.0 471.6,468.1 473.4,468.7 475.4,469.2 477.4,469.6 479.4,470.3 481.3,470.6 483.0,470.6 484.4,471.0 486.4,470.9 487.4,469.3 490.0,468.5 491.2,468.3 492.6,468.1 494.3,468.4 496.1,468.2 497.9,467.8 499.9,467.6 501.8,467.3 503.7,467.8 505.5,467.2 507.2,467.5 508.7,467.3 510.0,467.5 512.9,468.0 514.9,469.1 516.4,469.9 517.8,470.5 519.3,468.3 522.0,466.5 523.1,466.4 524.3,466.6 525.7,466.5 527.2,466.3 528.9,466.8 530.6,466.5 532.4,466.9 534.2,467.4 536.1,467.6 538.0,467.4 540.0,467.5 541.5,467.8 543.1,467.6 544.7,467.6 546.5,467.7 548.3,468.0 550.1,467.8 551.9,467.7 553.7,467.9 555.5,467.8 557.3,467.6 559.0,468.0 560.7,468.0 562.2,467.9 563.7,468.2 565.0,468.0 567.3,467.9 569.3,468.5 571.1,468.9 572.8,469.0 574.2,469.2 575.6,469.9 576.8,469.9 578.0,470.0 580.4,469.4 582.0,468.3 583.0,468.0" fill="none" stroke="#f7bd2f" stroke-width="1.9" stroke-linejoin="round"/>
<polyline points="353.3,465.0 354.7,466.7 356.6,468.6 358.7,469.5 360.6,469.7 362.6,468.4 365.0,468.0 366.4,467.9 367.9,467.6 369.5,467.5 371.2,467.1 373.0,466.9 375.0,467.0 376.5,466.8 378.1,466.6 379.8,466.6 381.6,466.2 383.4,466.1 385.2,466.4 386.9,466.1 388.5,466.1 390.0,466.0 392.0,466.1 393.9,465.7 395.6,465.4 397.2,465.9 398.7,465.7 400.0,465.5 402.0,465.2 403.5,464.8 405.0,464.5 406.8,465.1 408.6,465.3 410.0,465.5 412.0,463.0 413.9,462.8 416.1,462.4 418.0,462.5 420.0,463.0 421.7,463.7 423.8,464.6 426.0,465.5 427.7,466.3 429.5,467.3 431.2,468.6 432.7,469.0 434.8,467.6 437.0,465.5 438.3,465.5 439.8,465.6 441.5,466.1 443.2,466.1 445.0,466.5 446.6,466.3 448.3,466.3 450.1,466.5 451.9,465.9 453.5,465.8 455.0,466.0 457.2,465.8 458.9,466.0 461.0,466.5 462.7,466.5 464.6,466.8 466.5,467.1 468.4,466.8 470.0,467.0 472.0,466.8 473.5,466.5 475.0,466.5 476.7,466.4 478.4,466.8 480.0,467.0 482.2,468.7 484.4,470.0 486.0,469.3 487.8,468.2 490.0,467.5 491.4,467.4 493.0,467.2 494.7,467.1 496.5,466.5 498.3,466.6 500.0,466.5 501.7,466.7 503.5,466.5 505.3,466.7 507.0,466.2 508.6,466.8 510.0,466.5 512.1,466.4 513.7,467.0 515.0,467.5 517.8,470.0 519.8,467.5 522.0,465.5 523.3,465.8 524.7,466.6 527.0,467.0 528.3,467.4 529.8,467.2 531.4,467.3 533.2,466.9 535.0,467.1 536.8,466.8 538.5,466.5 540.0,466.5 541.8,466.7 543.4,466.2 544.9,465.9 546.4,465.8 548.1,466.0 550.0,466.0 551.5,465.8 553.1,466.5 554.8,466.6 556.6,466.2 558.4,466.3 560.2,466.7 561.9,466.6 563.5,467.0 565.0,467.0 567.0,467.2 568.8,466.7 570.4,466.7 572.0,466.9 573.5,466.5 575.0,466.5 576.9,466.4 578.7,466.9 580.5,467.0 581.9,467.2 583.0,467.0" fill="none" stroke="#4ade18" stroke-width="1.9" stroke-linejoin="round"/>
<polyline points="353.3,466.5 354.7,468.0 356.6,469.9 358.7,470.7 360.6,470.2 362.6,469.7 365.0,468.5 366.4,468.0 367.9,468.2 369.5,467.6 371.2,468.0 373.0,467.4 375.0,467.5 376.5,467.5 378.1,467.4 379.8,467.3 381.6,467.0 383.4,467.2 385.2,467.1 386.9,466.4 388.5,466.6 390.0,466.5 392.0,466.7 393.9,466.5 395.6,466.2 397.2,466.0 398.7,466.4 400.0,466.0 402.0,465.3 403.4,465.3 405.0,465.0 406.7,465.5 408.5,465.4 410.4,466.0 412.0,466.5 414.6,467.2 416.7,467.5 418.3,465.3 420.0,463.3 421.8,463.6 423.8,465.0 426.0,466.0 427.7,467.3 429.5,468.1 431.2,469.5 432.7,469.7 434.8,467.7 437.0,466.0 438.3,465.6 439.8,466.2 441.5,466.7 443.2,467.0 445.0,467.0 446.6,467.3 448.3,467.2 450.1,466.6 451.9,466.8 453.6,466.8 455.0,466.5 457.4,466.3 459.4,466.8 460.7,467.0" fill="none" stroke="#1c1f1c" stroke-width="1.9" stroke-linejoin="round"/>
<rect x="617.0" y="379.8" width="272.0" height="146.6" fill="#fff"/>
<line x1="642.4" y1="479.80" x2="874.8" y2="479.80" stroke="#e6e6e6" stroke-width="1.2"/>
<line x1="642.4" y1="463.80" x2="874.8" y2="463.80" stroke="#e6e6e6" stroke-width="1.2"/>
<line x1="642.4" y1="447.80" x2="874.8" y2="447.80" stroke="#e6e6e6" stroke-width="1.2"/>
<line x1="642.4" y1="431.80" x2="874.8" y2="431.80" stroke="#e6e6e6" stroke-width="1.2"/>
<line x1="642.4" y1="415.80" x2="874.8" y2="415.80" stroke="#e6e6e6" stroke-width="1.2"/>
<line x1="642.4" y1="399.80" x2="874.8" y2="399.80" stroke="#e6e6e6" stroke-width="1.2"/>
<line x1="700.50" y1="399.8" x2="700.50" y2="495.8" stroke="#e6e6e6" stroke-width="1.2"/>
<line x1="758.60" y1="399.8" x2="758.60" y2="495.8" stroke="#e6e6e6" stroke-width="1.2"/>
<line x1="816.70" y1="399.8" x2="816.70" y2="495.8" stroke="#e6e6e6" stroke-width="1.2"/>
<line x1="874.80" y1="399.8" x2="874.80" y2="495.8" stroke="#e6e6e6" stroke-width="1.2"/>
<line x1="642.4" y1="399.3" x2="642.4" y2="498.3" stroke="#7d7d7d" stroke-width="1.3"/>
<line x1="641.8" y1="495.8" x2="874.8" y2="495.8" stroke="#7d7d7d" stroke-width="1.5"/>
<line x1="638.9" y1="495.80" x2="642.4" y2="495.80" stroke="#7d7d7d" stroke-width="1.1"/>
<text x="637.4" y="498.70" text-anchor="end" font-size="8" fill="#444">0</text>
<line x1="638.9" y1="479.80" x2="642.4" y2="479.80" stroke="#7d7d7d" stroke-width="1.1"/>
<text x="637.4" y="482.70" text-anchor="end" font-size="8" fill="#444">0.2</text>
<line x1="638.9" y1="463.80" x2="642.4" y2="463.80" stroke="#7d7d7d" stroke-width="1.1"/>
<text x="637.4" y="466.70" text-anchor="end" font-size="8" fill="#444">0.4</text>
<line x1="638.9" y1="447.80" x2="642.4" y2="447.80" stroke="#7d7d7d" stroke-width="1.1"/>
<text x="637.4" y="450.70" text-anchor="end" font-size="8" fill="#444">0.6</text>
<line x1="638.9" y1="431.80" x2="642.4" y2="431.80" stroke="#7d7d7d" stroke-width="1.1"/>
<text x="637.4" y="434.70" text-anchor="end" font-size="8" fill="#444">0.8</text>
<line x1="638.9" y1="415.80" x2="642.4" y2="415.80" stroke="#7d7d7d" stroke-width="1.1"/>
<text x="637.4" y="418.70" text-anchor="end" font-size="8" fill="#444">1</text>
<line x1="638.9" y1="399.80" x2="642.4" y2="399.80" stroke="#7d7d7d" stroke-width="1.1"/>
<text x="637.4" y="402.70" text-anchor="end" font-size="8" fill="#444">1.2</text>
<line x1="642.40" y1="495.8" x2="642.40" y2="498.8" stroke="#7d7d7d" stroke-width="1.1"/>
<text x="642.40" y="507.80" text-anchor="middle" font-size="8" fill="#444">00:00</text>
<line x1="700.50" y1="495.8" x2="700.50" y2="498.8" stroke="#7d7d7d" stroke-width="1.1"/>
<text x="700.50" y="507.80" text-anchor="middle" font-size="8" fill="#444">06:00</text>
<line x1="758.60" y1="495.8" x2="758.60" y2="498.8" stroke="#7d7d7d" stroke-width="1.1"/>
<text x="758.60" y="507.80" text-anchor="middle" font-size="8" fill="#444">12:00</text>
<line x1="816.70" y1="495.8" x2="816.70" y2="498.8" stroke="#7d7d7d" stroke-width="1.1"/>
<text x="816.70" y="507.80" text-anchor="middle" font-size="8" fill="#444">18:00</text>
<line x1="874.80" y1="495.8" x2="874.80" y2="498.8" stroke="#7d7d7d" stroke-width="1.1"/>
<text x="874.80" y="507.80" text-anchor="middle" font-size="8" fill="#444">24:00</text>
<text x="642.4" y="390.30" text-anchor="middle" font-size="9" fill="#444">Mpa</text>
<text x="725.30" y="522.60" font-size="9.6" fill="#4592f2" textLength="55.2" lengthAdjust="spacingAndGlyphs">奥特莱斯269</text>
<line x1="642.4" y1="472.7" x2="872.30" y2="472.7" stroke="#f0465c" stroke-width="2.2"/>
<line x1="642.4" y1="486.3" x2="872.30" y2="486.3" stroke="#f0465c" stroke-width="2.2"/>
<polyline points="642.7,474.2 644.3,474.0 646.0,475.2 647.3,485.5 648.6,486.1 650.3,485.4 652.4,483.8 655.0,483.2 656.3,483.2 657.8,482.8 659.5,482.2 661.2,482.6 662.9,481.9 664.7,481.7 666.5,481.6 668.3,481.5 670.0,481.2 671.7,480.7 673.3,480.9 675.0,480.9 676.7,480.5 678.3,480.5 680.0,480.2 681.7,480.2 683.3,479.6 685.0,479.7 686.7,479.5 688.5,479.5 690.3,479.1 692.2,479.6 694.0,479.3 695.7,478.9 697.3,479.2 698.7,479.1 700.0,479.2 702.8,479.4 704.6,480.1 706.0,480.9 708.0,481.0 710.0,473.5 711.8,473.9 714.0,476.0 715.8,477.5 717.7,480.0 719.5,481.0 721.5,478.8 723.5,476.5 725.3,477.4 727.3,480.1 729.0,481.0 732.0,477.0 733.5,476.2 735.3,476.2 737.0,476.5 738.7,476.8 740.4,476.5 742.0,477.0 743.9,477.7 746.0,478.5 747.9,478.8 750.1,478.9 752.0,479.0 754.2,478.6 756.0,478.0 759.0,476.5 760.5,477.3 762.3,478.6 764.0,479.5 765.5,479.2 767.0,479.3 769.0,478.5 770.4,478.1 772.1,477.5 774.0,477.4 775.9,477.3 777.6,476.8 779.0,476.5 781.0,476.2 782.4,476.1 784.0,476.0 785.5,475.8 787.2,476.1 789.0,475.9 791.0,476.0 792.5,475.6 794.3,475.5 796.1,475.2 797.9,475.5 799.5,475.6 801.0,475.5 803.4,476.6 805.4,477.6 807.0,479.0 809.3,480.4 811.3,478.2 813.6,476.2 815.0,476.1 816.4,475.7 819.0,476.0 820.3,475.8 821.8,476.2 823.6,476.3 825.4,476.4 827.4,476.5 829.2,476.5 831.0,476.8 832.6,476.9 834.0,477.0 836.4,477.4 838.2,477.6 839.7,477.8 841.0,478.0 844.0,477.5 845.2,477.4 846.6,476.3 849.0,476.5 850.4,476.9 852.0,477.0 853.9,477.7 855.9,478.1 857.9,478.5 859.8,478.8 861.6,478.7 863.2,478.8 865.5,477.7 867.6,476.8 869.5,474.8 871.1,473.2 872.2,472.5" fill="none" stroke="#f7bd2f" stroke-width="1.9" stroke-linejoin="round"/>
<polyline points="642.7,472.5 644.3,472.5 646.0,473.5 647.3,483.8 648.6,483.9 650.3,483.2 652.4,482.4 655.0,481.5 656.3,480.9 657.6,481.2 658.9,481.0 660.3,480.2 661.9,480.4 663.6,480.1 665.5,480.0 667.6,480.0 670.0,479.5 671.3,479.8 672.8,479.3 674.5,479.5 676.2,479.4 678.0,479.5 680.0,478.7 681.9,479.3 683.9,478.8 685.9,478.6 687.8,478.9 689.7,479.0 691.6,479.1 693.3,478.6 695.0,478.9 696.5,478.3 697.8,478.9 699.0,478.4 700.0,478.5 701.2,478.0 704.0,472.0 705.8,471.5 708.0,471.3 710.0,472.0 712.0,473.0 714.0,475.0 715.8,475.7 717.7,477.1 719.5,477.5 721.5,476.3 723.5,475.0 725.3,475.9 727.3,477.1 729.0,477.5 732.0,474.5 733.5,473.9 735.3,473.9 737.0,473.5 738.7,473.4 740.4,474.1 742.0,474.0 743.9,473.5 746.0,473.5 747.9,474.0 750.1,474.0 752.0,474.5 754.2,475.6 756.0,476.5 759.0,475.0 760.5,475.0 762.3,475.0 764.0,475.5 765.5,475.4 767.0,475.9 769.0,476.0 770.4,476.1 772.1,475.6 774.0,475.7 775.9,475.5 777.6,475.7 779.0,475.5 781.0,476.0 782.4,475.6 784.0,476.0 785.7,476.0 787.5,475.5 789.3,475.8 791.0,475.5 792.8,476.0 794.4,476.1 796.0,476.0 797.6,475.6 799.2,474.6 800.9,474.6 802.9,474.7 805.0,475.6 807.0,476.5 809.4,477.1 811.5,478.3 813.7,479.8 815.7,481.0 818.8,475.7 820.1,475.7 821.8,475.1 823.7,475.5 825.6,475.5 827.4,475.6 829.0,475.5 831.0,475.8 832.8,475.7 834.5,475.6 836.0,476.0 837.8,476.6 839.5,477.4 841.0,478.3 843.2,479.4 845.2,480.2 848.4,475.5 849.8,474.9 851.5,475.1 853.5,475.1 855.5,475.5 857.4,475.4 859.0,475.5 861.4,476.5 863.3,477.4 865.3,477.8 867.1,477.3 869.1,476.3 870.9,474.6 872.2,474.1" fill="none" stroke="#4ade18" stroke-width="1.9" stroke-linejoin="round"/>
<polyline points="642.7,473.0 644.3,473.0 646.0,474.0 647.3,484.3 648.6,484.7 650.3,484.2 652.4,482.6 655.0,482.0 656.3,481.5 657.8,481.8 659.5,481.2 661.2,481.0 662.9,481.1 664.7,480.4 666.5,480.7 668.3,480.2 670.0,480.0 671.7,479.5 673.3,479.9 675.0,479.5 676.7,478.9 678.3,479.3 680.0,479.1 681.7,478.9 683.3,478.7 685.0,478.5 686.7,478.7 688.5,477.9 690.3,478.5 692.2,478.2 694.0,477.8 695.7,478.0 697.3,477.8 698.7,478.1 700.0,478.0 702.7,478.8 704.4,479.7 706.0,479.7 708.4,476.2 710.7,473.3 712.5,473.4 714.3,474.6 716.0,476.0 718.2,478.0 720.0,479.0 722.7,475.7 724.5,477.2 726.7,479.3 728.7,480.3 730.8,479.0 733.0,477.0 734.6,476.3 736.5,476.4 738.3,475.9 740.0,476.0 741.9,476.5 743.6,476.4 745.0,477.0 748.0,478.0 750.7,480.3" fill="none" stroke="#1c1f1c" stroke-width="1.9" stroke-linejoin="round"/>
<g transform="translate(647,492) rotate(162)"><path d="M0,8.75 L-4.00,3.00 A5.0,5.0 0 1 1 4.00,3.00 Z" fill="#f50d0d"/></g><path d="M644.7,492.3 L649.3,491.1" stroke="#fff" stroke-width="1.1" opacity="0.75"/>
<path d="M830.8,23.3 L839,23.3 L837.6,21.2 L837.6,18.2 C837.6,16.2 836.3,14.8 834.9,14.8 C833.5,14.8 832.2,16.2 832.2,18.2 L832.2,21.2 Z" fill="none" stroke="#ffffff" stroke-width="1.2" stroke-linejoin="round"/>
<path d="M833.8,24.3 L836,24.3" stroke="#ffffff" stroke-width="1"/>
<circle cx="859.4" cy="17.6" r="2.6" fill="none" stroke="#ffffff" stroke-width="1.2"/>
<path d="M855.6,24.4 L855.6,23 C855.6,21.4 857,20.6 859.4,20.6 C861.8,20.6 863.2,21.4 863.2,23 L863.2,24.4 Z" fill="none" stroke="#ffffff" stroke-width="1.2" stroke-linejoin="round"/>
<rect x="8.4" y="43.6" width="7.4" height="7" fill="#a9b9e8" opacity="0.75"/>
<path d="M8.4,45.9 H15.8 M8.4,48.3 H15.8" stroke="#4a62b0" stroke-width="0.8"/>
<rect x="6.7" y="65.4" width="11.2" height="9.8" rx="2.6" fill="none" stroke="#a9b9e8" stroke-width="1.6"/>
<path d="M9.6,68.6 V72.8 M11.2,69.6 L12.2,72.8 L13.2,70.6 L14.2,72.8 L15.2,69.6" fill="none" stroke="#a9b9e8" stroke-width="1.1"/><path d="M10.5,76.6 H14.2" stroke="#a9b9e8" stroke-width="1.2"/>
<rect x="8" y="89.6" width="9.8" height="9.2" rx="1" fill="#a9b9e8" opacity="0.75"/>
<circle cx="10.8" cy="92.2" r="1.1" fill="#1c3c9e"/>
<circle cx="15" cy="92.2" r="1.1" fill="#1c3c9e"/>
<circle cx="10.8" cy="96.3" r="1.1" fill="#1c3c9e"/>
<circle cx="15" cy="96.3" r="1.1" fill="#1c3c9e"/>
<path d="M14,116.8 L19.2,125.8 L8.8,125.8 Z" fill="none" stroke="#a9b9e8" stroke-width="1.4" stroke-linejoin="round"/>
<path d="M14,120 V122.5" stroke="#a9b9e8" stroke-width="1"/>
<rect x="9" y="139.6" width="9.6" height="7.6" fill="none" stroke="#a9b9e8" stroke-width="1.3"/>
<path d="M9,143.4 H18.6" stroke="#a9b9e8" stroke-width="0.9"/>
<path d="M13.5,160 L17.8,162.6 L17.8,167.6 L13.5,170.2 L9.2,167.6 L9.2,162.6 Z" fill="none" stroke="#a9b9e8" stroke-width="1.3" stroke-linejoin="round"/>
<circle cx="13.5" cy="165.1" r="1.6" fill="none" stroke="#a9b9e8" stroke-width="1"/>
</svg>
</div></body></html>
